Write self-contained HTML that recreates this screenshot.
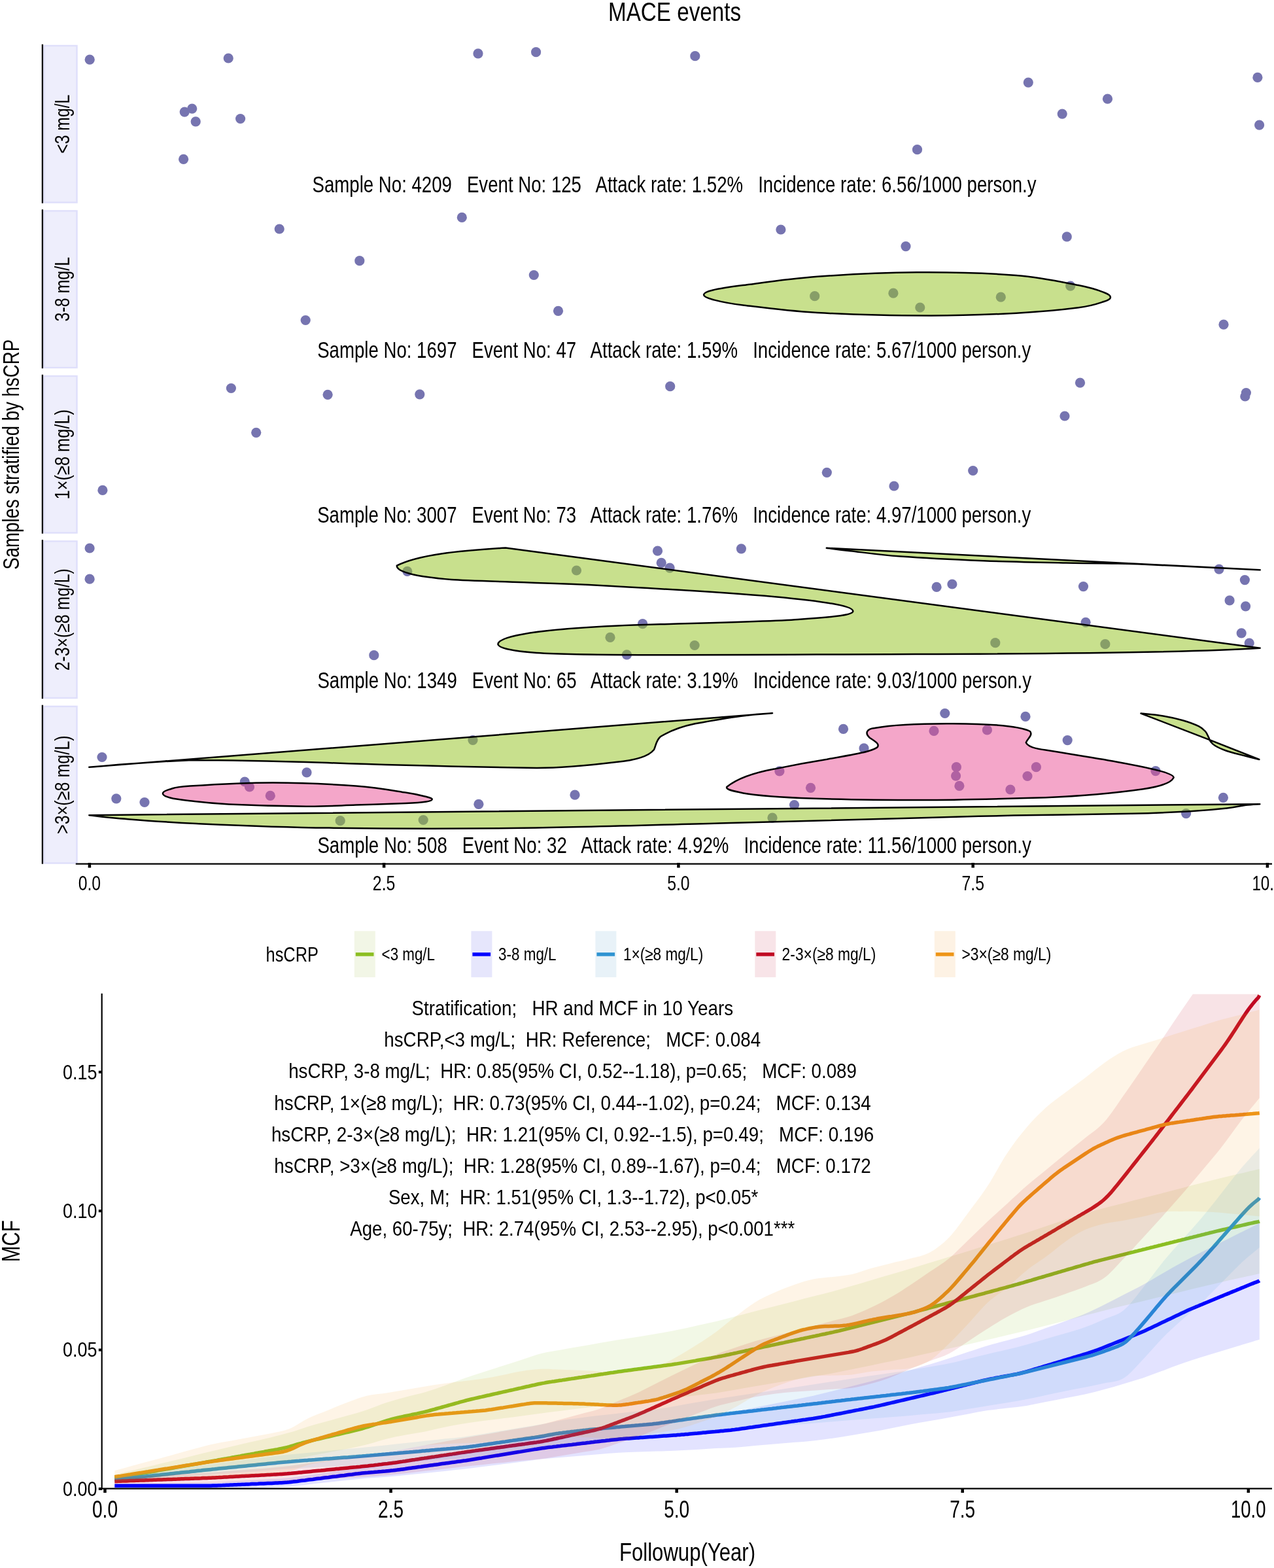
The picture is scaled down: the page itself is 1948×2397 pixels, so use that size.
<!DOCTYPE html><html><head><meta charset="utf-8"><title>MACE events</title><style>html,body{margin:0;padding:0;background:#fff;overflow:hidden}svg{display:block} text{font-family:"Liberation Sans", Arial, sans-serif;white-space:pre}</style></head><body>
<svg width="1948" height="2397" viewBox="0 0 1948 2397">
<rect width="1948" height="2397" fill="#fff"/>
<text x="930.0" y="31.9" font-size="41" textLength="203.0" lengthAdjust="spacingAndGlyphs" fill="#000" >MACE events</text>
<rect x="67.5" y="69.9" width="50" height="239.6" fill="#EEEEFC" stroke="#DFDFFB" stroke-width="2.4"/>
<line x1="64.9" y1="67.7" x2="64.9" y2="310.7" stroke="#000" stroke-width="2.3"/>
<text transform="translate(105.5,189.7) rotate(-90)" x="0" y="0" font-size="31" textLength="90.0" lengthAdjust="spacingAndGlyphs" text-anchor="middle" fill="#000" >&lt;3 mg/L</text>
<rect x="67.5" y="322.4" width="50" height="239.6" fill="#EEEEFC" stroke="#DFDFFB" stroke-width="2.4"/>
<line x1="64.9" y1="320.2" x2="64.9" y2="563.2" stroke="#000" stroke-width="2.3"/>
<text transform="translate(105.5,442.2) rotate(-90)" x="0" y="0" font-size="31" textLength="98.5" lengthAdjust="spacingAndGlyphs" text-anchor="middle" fill="#000" >3-8 mg/L</text>
<rect x="67.5" y="574.9" width="50" height="239.6" fill="#EEEEFC" stroke="#DFDFFB" stroke-width="2.4"/>
<line x1="64.9" y1="572.7" x2="64.9" y2="815.7" stroke="#000" stroke-width="2.3"/>
<text transform="translate(105.5,694.7) rotate(-90)" x="0" y="0" font-size="31" textLength="137.5" lengthAdjust="spacingAndGlyphs" text-anchor="middle" fill="#000" >1×(≥8 mg/L)</text>
<rect x="67.5" y="827.4" width="50" height="239.6" fill="#EEEEFC" stroke="#DFDFFB" stroke-width="2.4"/>
<line x1="64.9" y1="825.2" x2="64.9" y2="1068.2" stroke="#000" stroke-width="2.3"/>
<text transform="translate(105.5,947.2) rotate(-90)" x="0" y="0" font-size="31" textLength="156.0" lengthAdjust="spacingAndGlyphs" text-anchor="middle" fill="#000" >2-3×(≥8 mg/L)</text>
<rect x="67.5" y="1079.9" width="50" height="239.6" fill="#EEEEFC" stroke="#DFDFFB" stroke-width="2.4"/>
<line x1="64.9" y1="1077.7" x2="64.9" y2="1320.7" stroke="#000" stroke-width="2.3"/>
<text transform="translate(105.5,1199.7) rotate(-90)" x="0" y="0" font-size="31" textLength="150.5" lengthAdjust="spacingAndGlyphs" text-anchor="middle" fill="#000" >&gt;3×(≥8 mg/L)</text>
<text transform="translate(29.2,694.8) rotate(-90)" x="0" y="0" font-size="34.5" textLength="352.0" lengthAdjust="spacingAndGlyphs" text-anchor="middle" fill="#000" >Samples stratified by hsCRP</text>
<line x1="115.8" y1="1320.6" x2="1945" y2="1320.6" stroke="#000" stroke-width="2.2"/>
<line x1="136.9" y1="1319" x2="136.9" y2="1326.5" stroke="#000" stroke-width="4.5"/>
<text x="136.9" y="1361.3" font-size="31.5" textLength="34.5" lengthAdjust="spacingAndGlyphs" text-anchor="middle" fill="#000" >0.0</text>
<line x1="587.1" y1="1319" x2="587.1" y2="1326.5" stroke="#000" stroke-width="4.5"/>
<text x="587.1" y="1361.3" font-size="31.5" textLength="34.5" lengthAdjust="spacingAndGlyphs" text-anchor="middle" fill="#000" >2.5</text>
<line x1="1037.4" y1="1319" x2="1037.4" y2="1326.5" stroke="#000" stroke-width="4.5"/>
<text x="1037.4" y="1361.3" font-size="31.5" textLength="34.5" lengthAdjust="spacingAndGlyphs" text-anchor="middle" fill="#000" >5.0</text>
<line x1="1487.7" y1="1319" x2="1487.7" y2="1326.5" stroke="#000" stroke-width="4.5"/>
<text x="1487.7" y="1361.3" font-size="31.5" textLength="34.5" lengthAdjust="spacingAndGlyphs" text-anchor="middle" fill="#000" >7.5</text>
<line x1="1937.9" y1="1319" x2="1937.9" y2="1326.5" stroke="#000" stroke-width="4.5"/>
<text x="1937.9" y="1361.3" font-size="31.5" textLength="47.0" lengthAdjust="spacingAndGlyphs" text-anchor="middle" fill="#000" >10.0</text>
<circle cx="137.2" cy="91.2" r="7.6" fill="#7674B0"/>
<circle cx="349.2" cy="89.0" r="7.6" fill="#7674B0"/>
<circle cx="731.0" cy="81.9" r="7.6" fill="#7674B0"/>
<circle cx="819.6" cy="79.7" r="7.6" fill="#7674B0"/>
<circle cx="282.2" cy="171.1" r="7.6" fill="#7674B0"/>
<circle cx="293.7" cy="166.2" r="7.6" fill="#7674B0"/>
<circle cx="299.2" cy="185.9" r="7.6" fill="#7674B0"/>
<circle cx="367.6" cy="181.5" r="7.6" fill="#7674B0"/>
<circle cx="280.6" cy="243.3" r="7.6" fill="#7674B0"/>
<circle cx="1062.8" cy="85.7" r="7.6" fill="#7674B0"/>
<circle cx="1572.3" cy="126.1" r="7.6" fill="#7674B0"/>
<circle cx="1693.5" cy="151.2" r="7.6" fill="#7674B0"/>
<circle cx="1624.2" cy="174.1" r="7.6" fill="#7674B0"/>
<circle cx="1402.5" cy="228.7" r="7.6" fill="#7674B0"/>
<circle cx="1922.9" cy="118.4" r="7.6" fill="#7674B0"/>
<circle cx="1925.6" cy="191.1" r="7.6" fill="#7674B0"/>
<circle cx="427.2" cy="350.0" r="7.6" fill="#7674B0"/>
<circle cx="706.3" cy="332.4" r="7.6" fill="#7674B0"/>
<circle cx="549.8" cy="398.7" r="7.6" fill="#7674B0"/>
<circle cx="816.3" cy="420.5" r="7.6" fill="#7674B0"/>
<circle cx="467.2" cy="489.5" r="7.6" fill="#7674B0"/>
<circle cx="853.5" cy="475.3" r="7.6" fill="#7674B0"/>
<circle cx="1193.9" cy="351.0" r="7.6" fill="#7674B0"/>
<circle cx="1385.0" cy="376.6" r="7.6" fill="#7674B0"/>
<circle cx="1631.3" cy="361.9" r="7.6" fill="#7674B0"/>
<circle cx="1871.0" cy="496.2" r="7.6" fill="#7674B0"/>
<circle cx="1245.7" cy="452.7" r="7.6" fill="#7674B0"/>
<circle cx="1365.9" cy="448.2" r="7.6" fill="#7674B0"/>
<circle cx="1406.8" cy="470.0" r="7.6" fill="#7674B0"/>
<circle cx="1530.3" cy="454.2" r="7.6" fill="#7674B0"/>
<circle cx="1636.7" cy="437.2" r="7.6" fill="#7674B0"/>
<circle cx="353.4" cy="593.5" r="7.6" fill="#7674B0"/>
<circle cx="501.1" cy="603.3" r="7.6" fill="#7674B0"/>
<circle cx="641.8" cy="602.8" r="7.6" fill="#7674B0"/>
<circle cx="1024.7" cy="590.7" r="7.6" fill="#7674B0"/>
<circle cx="391.7" cy="661.3" r="7.6" fill="#7674B0"/>
<circle cx="156.9" cy="749.4" r="7.6" fill="#7674B0"/>
<circle cx="1651.5" cy="585.2" r="7.6" fill="#7674B0"/>
<circle cx="1628.0" cy="636.0" r="7.6" fill="#7674B0"/>
<circle cx="1905.4" cy="600.5" r="7.6" fill="#7674B0"/>
<circle cx="1903.8" cy="606.0" r="7.6" fill="#7674B0"/>
<circle cx="1264.3" cy="722.3" r="7.6" fill="#7674B0"/>
<circle cx="1367.0" cy="743.0" r="7.6" fill="#7674B0"/>
<circle cx="1487.7" cy="719.5" r="7.6" fill="#7674B0"/>
<circle cx="137.1" cy="838.0" r="7.6" fill="#7674B0"/>
<circle cx="137.1" cy="885.2" r="7.6" fill="#7674B0"/>
<circle cx="571.8" cy="1001.7" r="7.6" fill="#7674B0"/>
<circle cx="622.8" cy="873.4" r="7.6" fill="#7674B0"/>
<circle cx="881.5" cy="872.0" r="7.6" fill="#7674B0"/>
<circle cx="1005.5" cy="842.2" r="7.6" fill="#7674B0"/>
<circle cx="1011.2" cy="860.4" r="7.6" fill="#7674B0"/>
<circle cx="1024.1" cy="868.1" r="7.6" fill="#7674B0"/>
<circle cx="1133.4" cy="838.8" r="7.6" fill="#7674B0"/>
<circle cx="982.6" cy="953.7" r="7.6" fill="#7674B0"/>
<circle cx="933.0" cy="974.4" r="7.6" fill="#7674B0"/>
<circle cx="958.4" cy="1000.8" r="7.6" fill="#7674B0"/>
<circle cx="1062.1" cy="986.5" r="7.6" fill="#7674B0"/>
<circle cx="1432.1" cy="897.4" r="7.6" fill="#7674B0"/>
<circle cx="1455.9" cy="893.0" r="7.6" fill="#7674B0"/>
<circle cx="1656.5" cy="896.6" r="7.6" fill="#7674B0"/>
<circle cx="1660.1" cy="951.3" r="7.6" fill="#7674B0"/>
<circle cx="1521.8" cy="982.7" r="7.6" fill="#7674B0"/>
<circle cx="1689.9" cy="984.7" r="7.6" fill="#7674B0"/>
<circle cx="1864.0" cy="870.1" r="7.6" fill="#7674B0"/>
<circle cx="1903.4" cy="886.6" r="7.6" fill="#7674B0"/>
<circle cx="1880.1" cy="917.9" r="7.6" fill="#7674B0"/>
<circle cx="1904.6" cy="926.8" r="7.6" fill="#7674B0"/>
<circle cx="1898.2" cy="967.8" r="7.6" fill="#7674B0"/>
<circle cx="1910.2" cy="983.1" r="7.6" fill="#7674B0"/>
<circle cx="156.0" cy="1157.5" r="7.6" fill="#7674B0"/>
<circle cx="177.8" cy="1220.8" r="7.6" fill="#7674B0"/>
<circle cx="221.0" cy="1226.5" r="7.6" fill="#7674B0"/>
<circle cx="374.2" cy="1195.0" r="7.6" fill="#7674B0"/>
<circle cx="381.5" cy="1203.0" r="7.6" fill="#7674B0"/>
<circle cx="413.3" cy="1216.4" r="7.6" fill="#7674B0"/>
<circle cx="469.0" cy="1180.9" r="7.6" fill="#7674B0"/>
<circle cx="731.9" cy="1229.3" r="7.6" fill="#7674B0"/>
<circle cx="723.0" cy="1131.5" r="7.6" fill="#7674B0"/>
<circle cx="520.2" cy="1254.7" r="7.6" fill="#7674B0"/>
<circle cx="647.2" cy="1253.5" r="7.6" fill="#7674B0"/>
<circle cx="879.0" cy="1215.2" r="7.6" fill="#7674B0"/>
<circle cx="1289.5" cy="1114.4" r="7.6" fill="#7674B0"/>
<circle cx="1321.0" cy="1143.8" r="7.6" fill="#7674B0"/>
<circle cx="1191.9" cy="1178.9" r="7.6" fill="#7674B0"/>
<circle cx="1239.5" cy="1204.3" r="7.6" fill="#7674B0"/>
<circle cx="1214.5" cy="1230.5" r="7.6" fill="#7674B0"/>
<circle cx="1181.0" cy="1250.2" r="7.6" fill="#7674B0"/>
<circle cx="1444.8" cy="1090.5" r="7.6" fill="#7674B0"/>
<circle cx="1568.0" cy="1095.4" r="7.6" fill="#7674B0"/>
<circle cx="1632.2" cy="1131.6" r="7.6" fill="#7674B0"/>
<circle cx="1428.0" cy="1117.4" r="7.6" fill="#7674B0"/>
<circle cx="1509.4" cy="1115.9" r="7.6" fill="#7674B0"/>
<circle cx="1462.4" cy="1172.7" r="7.6" fill="#7674B0"/>
<circle cx="1461.6" cy="1186.1" r="7.6" fill="#7674B0"/>
<circle cx="1466.9" cy="1201.4" r="7.6" fill="#7674B0"/>
<circle cx="1584.4" cy="1172.7" r="7.6" fill="#7674B0"/>
<circle cx="1571.0" cy="1186.5" r="7.6" fill="#7674B0"/>
<circle cx="1544.9" cy="1207.0" r="7.6" fill="#7674B0"/>
<circle cx="1767.0" cy="1178.6" r="7.6" fill="#7674B0"/>
<circle cx="1870.4" cy="1219.3" r="7.6" fill="#7674B0"/>
<circle cx="1813.6" cy="1243.6" r="7.6" fill="#7674B0"/>
<path d="M1076.0,450.6 C1076.0,448.2 1080.0,445.9 1090.0,443.5 C1100.0,441.1 1109.3,439.6 1136.0,436.1 C1162.7,432.7 1205.7,426.1 1250.0,422.8 C1294.3,419.5 1351.3,416.6 1402.0,416.3 C1452.7,416.0 1512.8,417.6 1554.0,420.9 C1595.2,424.2 1626.7,431.8 1649.0,436.1 C1671.3,440.5 1679.8,443.9 1688.0,447.0 C1696.2,450.1 1698.0,452.1 1698.0,454.4 C1698.0,456.7 1696.2,458.4 1688.0,461.0 C1679.8,463.6 1671.3,467.4 1649.0,470.3 C1626.7,473.2 1592.0,476.7 1554.0,478.7 C1516.0,480.7 1471.7,482.6 1421.0,482.5 C1370.3,482.4 1297.5,480.7 1250.0,478.0 C1202.5,475.3 1162.7,469.8 1136.0,466.5 C1109.3,463.2 1100.0,460.6 1090.0,458.0 C1080.0,455.4 1076.0,453.0 1076.0,450.6 Z" fill="rgba(151,197,40,0.53)" stroke="#000" stroke-width="2.5" stroke-linejoin="round"/>
<path d="M606.8,864.7 C640,848 700,842 773.1,837.5 L1926.7,990.7 C1850,996 1700,999 1400,1000 C1100,1001 900,1003 820,998 C780,995 762,990 761.4,984.8 C762,975 800,962 968.8,955.4 C1100,952 1184.8,949.8 1220,947 C1280,943 1304,940 1304.3,934.4 C1304,928 1280,921 1184.8,912.2 C1100,905 1012,900 900,894 C800,890 720,888 690,886 C640,882 606,875 606.8,864.7 Z" fill="rgba(151,197,40,0.53)" stroke="#000" stroke-width="2.5" stroke-linejoin="round"/>
<path d="M1263.8,837.8 L1926.7,871.3 L1740,862.2 L1740.0,862.2 C1734.9,862.1 1727.8,861.9 1709.5,861.6 C1691.2,861.3 1664.3,861.3 1630.0,860.6 C1595.7,859.9 1545.7,859.0 1503.5,857.3 C1461.3,855.6 1410.6,853.1 1376.7,850.6 C1342.8,848.1 1318.8,844.3 1300.0,842.2 C1281.2,840.1 1269.8,838.5 1263.8,837.8 Z" fill="rgba(151,197,40,0.53)" stroke="#000" stroke-width="2.5" stroke-linejoin="round"/>
<path d="M136.3,1172.8 L1181,1090.2 C1150,1092 1123.4,1095 1062.9,1106.3 C1040,1111 1022.6,1118.4 1010,1126 C1003,1132 1003,1140 1000,1146 C992,1156 975,1162 942,1165 C900,1170 860,1174 821,1174 C700,1172 600,1170 500,1166 C400,1163 320,1162 293.5,1162 C220,1165 160,1171 136.3,1172.8 Z" fill="rgba(151,197,40,0.53)" stroke="#000" stroke-width="2.5" stroke-linejoin="round"/>
<path d="M136.3,1246.2 L1926.3,1229.2 L1926.3,1229.2 C1922.8,1229.5 1913.4,1229.8 1905.0,1230.8 C1896.6,1231.8 1890.2,1233.9 1876.0,1235.5 C1861.8,1237.1 1844.3,1238.8 1820.0,1240.2 C1795.7,1241.6 1775.0,1242.7 1730.0,1243.8 C1685.0,1244.9 1605.0,1245.5 1550.0,1246.6 C1495.0,1247.7 1475.0,1248.4 1400.0,1250.4 C1325.0,1252.4 1200.0,1255.9 1100.0,1258.5 C1000.0,1261.1 899.5,1264.6 800.0,1265.8 C700.5,1267.0 586.5,1266.7 503.2,1265.6 C419.9,1264.5 353.9,1261.4 300.0,1259.0 C246.1,1256.6 207.3,1253.1 180.0,1251.0 C152.7,1248.9 143.6,1247.0 136.3,1246.2 Z" fill="rgba(151,197,40,0.53)" stroke="#000" stroke-width="2.5" stroke-linejoin="round"/>
<path d="M1744.5,1090.6 C1750.2,1091.2 1767.7,1092.7 1778.4,1094.5 C1789.1,1096.3 1799.5,1098.6 1808.6,1101.2 C1817.7,1103.8 1827.1,1107.4 1832.8,1110.2 C1838.5,1113.0 1840.5,1115.2 1843.0,1118.0 C1845.5,1120.8 1846.7,1124.4 1848.0,1127.0 C1849.3,1129.6 1849.3,1131.3 1851.0,1133.5 C1852.7,1135.7 1854.0,1137.6 1858.0,1140.0 C1862.0,1142.4 1868.3,1145.3 1875.2,1147.7 C1882.1,1150.1 1890.9,1152.2 1899.3,1154.4 C1907.7,1156.6 1921.1,1159.9 1925.4,1161.0 L1849.1,1130.8 L1744.5,1090.6 Z" fill="rgba(151,197,40,0.53)" stroke="#000" stroke-width="2.5" stroke-linejoin="round"/>
<path d="M248.9,1212.9 C248.9,1210.7 253.0,1208.4 260.0,1206.5 C267.0,1204.6 264.5,1203.2 290.7,1201.5 C316.9,1199.8 375.1,1196.4 417.4,1196.4 C459.6,1196.4 510.4,1199.0 544.2,1201.5 C578.0,1204.0 602.2,1208.8 620.2,1211.6 C638.2,1214.3 645.2,1216.3 652.0,1218.0 C658.8,1219.7 660.8,1220.5 660.8,1221.8 C660.8,1223.0 658.8,1224.5 652.0,1225.5 C645.2,1226.5 638.2,1227.2 620.2,1228.1 C602.2,1228.9 569.6,1229.8 544.2,1230.6 C518.9,1231.4 500.5,1232.9 468.1,1232.7 C435.7,1232.5 379.6,1230.9 350.0,1229.5 C320.4,1228.1 305.7,1226.0 290.7,1224.3 C275.7,1222.6 267.0,1221.4 260.0,1219.5 C253.0,1217.6 248.9,1215.1 248.9,1212.9 Z" fill="rgba(233,77,147,0.5)" stroke="#000" stroke-width="2.5" stroke-linejoin="round"/>
<path d="M1111.3,1203 C1130,1188 1160,1180 1183.9,1175.6 C1220,1168 1250,1163 1264.5,1160.7 C1300,1154 1330,1150 1341.1,1142.6 C1346,1138 1338,1133 1330,1128 C1322,1121 1325,1114 1337.3,1112.9 C1370,1107 1420,1106 1456.8,1106.2 C1520,1106.5 1560,1110 1575,1118 C1580,1124 1570,1130 1568.8,1135.3 C1572,1142 1585,1145 1598.6,1146.5 C1650,1155 1690,1161 1710.6,1165.2 C1770,1176 1795,1183 1794.6,1188.7 C1790,1198 1770,1203 1747.9,1206.2 C1700,1213 1650,1217 1598.6,1219.3 C1500,1222 1450,1223 1412,1223 C1350,1223 1300,1223 1224.2,1220 C1180,1218 1150,1216 1130,1211 C1115,1208 1110,1206 1111.3,1203 Z" fill="rgba(233,77,147,0.5)" stroke="#000" stroke-width="2.5" stroke-linejoin="round"/>
<text x="477.5" y="294.1" font-size="35.6" textLength="1107.0" lengthAdjust="spacingAndGlyphs" fill="#000" >Sample No: 4209   Event No: 125   Attack rate: 1.52%   Incidence rate: 6.56/1000 person.y</text>
<text x="485.2" y="546.6" font-size="35.6" textLength="1091.1" lengthAdjust="spacingAndGlyphs" fill="#000" >Sample No: 1697   Event No: 47   Attack rate: 1.59%   Incidence rate: 5.67/1000 person.y</text>
<text x="485.2" y="799.1" font-size="35.6" textLength="1091.1" lengthAdjust="spacingAndGlyphs" fill="#000" >Sample No: 3007   Event No: 73   Attack rate: 1.76%   Incidence rate: 4.97/1000 person.y</text>
<text x="485.4" y="1051.6" font-size="35.6" textLength="1091.6" lengthAdjust="spacingAndGlyphs" fill="#000" >Sample No: 1349   Event No: 65   Attack rate: 3.19%   Incidence rate: 9.03/1000 person.y</text>
<text x="485.4" y="1304.1" font-size="35.6" textLength="1091.4" lengthAdjust="spacingAndGlyphs" fill="#000" >Sample No: 508   Event No: 32   Attack rate: 4.92%   Incidence rate: 11.56/1000 person.y</text>
<text x="406.5" y="1470.0" font-size="31" textLength="80.5" lengthAdjust="spacingAndGlyphs" fill="#000" >hsCRP</text>
<rect x="541.8" y="1423.3" width="32" height="70.6" fill="#F2F6E6"/>
<line x1="543.8" y1="1458.9" x2="571.5" y2="1458.9" stroke="#8CBE22" stroke-width="5.5"/>
<text x="583.6" y="1468.0" font-size="27" textLength="81.4" lengthAdjust="spacingAndGlyphs" fill="#000" >&lt;3 mg/L</text>
<rect x="720.4" y="1423.3" width="32" height="70.6" fill="#E6E6FC"/>
<line x1="722.4" y1="1458.9" x2="750.1" y2="1458.9" stroke="#0000FF" stroke-width="5.5"/>
<text x="762.0" y="1468.0" font-size="27" textLength="88.6" lengthAdjust="spacingAndGlyphs" fill="#000" >3-8 mg/L</text>
<rect x="910.4" y="1423.3" width="32" height="70.6" fill="#E8F2F8"/>
<line x1="912.4" y1="1458.9" x2="940.1" y2="1458.9" stroke="#2E93D1" stroke-width="5.5"/>
<text x="952.9" y="1468.0" font-size="27" textLength="122.3" lengthAdjust="spacingAndGlyphs" fill="#000" >1×(≥8 mg/L)</text>
<rect x="1154.3" y="1423.3" width="32" height="70.6" fill="#F8E4E8"/>
<line x1="1156.3" y1="1458.9" x2="1184.0" y2="1458.9" stroke="#C00A23" stroke-width="5.5"/>
<text x="1195.6" y="1468.0" font-size="27" textLength="143.8" lengthAdjust="spacingAndGlyphs" fill="#000" >2-3×(≥8 mg/L)</text>
<rect x="1428.8" y="1423.3" width="32" height="70.6" fill="#FDF2E4"/>
<line x1="1430.8" y1="1458.9" x2="1458.5" y2="1458.9" stroke="#EE9517" stroke-width="5.5"/>
<text x="1470.5" y="1468.0" font-size="27" textLength="136.9" lengthAdjust="spacingAndGlyphs" fill="#000" >&gt;3×(≥8 mg/L)</text>
<defs><clipPath id="pc"><rect x="157" y="1519.7" width="1791" height="757"/></clipPath></defs>
<g clip-path="url(#pc)">
<path d="M175.3,2259.5 L178.3,2259.0 L181.3,2258.5 L184.3,2258.0 L187.3,2257.4 L190.3,2256.9 L193.3,2256.4 L196.3,2255.9 L199.3,2255.4 L202.3,2254.9 L205.3,2254.3 L208.3,2253.8 L211.3,2253.3 L214.3,2252.8 L217.3,2252.3 L220.3,2251.8 L223.3,2251.2 L226.3,2250.7 L229.3,2250.2 L232.3,2249.7 L235.3,2249.2 L238.3,2248.7 L241.3,2248.1 L244.3,2247.6 L247.3,2247.1 L250.3,2246.6 L253.3,2246.0 L256.3,2245.5 L259.3,2245.0 L262.3,2244.5 L265.3,2244.0 L268.3,2243.4 L271.3,2242.9 L274.3,2242.4 L277.3,2241.9 L280.3,2241.3 L283.3,2240.8 L286.3,2240.3 L289.3,2239.8 L292.3,2239.2 L295.3,2238.7 L298.3,2238.2 L301.3,2237.7 L304.3,2237.1 L307.3,2236.6 L310.3,2236.1 L313.3,2235.6 L316.3,2235.0 L319.3,2234.5 L322.3,2234.0 L325.3,2233.4 L328.3,2232.9 L331.3,2232.4 L334.3,2231.8 L337.3,2231.3 L340.3,2230.7 L343.3,2230.2 L346.3,2229.7 L349.3,2229.1 L352.3,2228.6 L355.3,2228.0 L358.3,2227.5 L361.3,2226.9 L364.3,2226.4 L367.3,2225.9 L370.3,2225.3 L373.3,2224.8 L376.3,2224.2 L379.3,2223.7 L382.3,2223.2 L385.3,2222.6 L388.3,2222.1 L391.3,2221.5 L394.3,2221.0 L397.3,2220.4 L400.3,2219.9 L403.3,2219.4 L406.3,2218.8 L409.3,2218.3 L412.3,2217.7 L415.3,2217.2 L418.3,2216.7 L421.3,2216.1 L424.3,2215.6 L427.3,2215.0 L430.3,2214.4 L433.3,2213.8 L436.3,2213.1 L439.3,2212.4 L442.3,2211.6 L445.3,2210.7 L448.3,2209.8 L451.3,2208.9 L454.3,2208.0 L457.3,2207.1 L460.3,2206.3 L463.3,2205.4 L466.3,2204.7 L469.3,2203.9 L472.3,2203.2 L475.3,2202.5 L478.3,2201.8 L481.3,2201.1 L484.3,2200.4 L487.3,2199.7 L490.3,2199.0 L493.3,2198.3 L496.3,2197.6 L499.3,2196.9 L502.3,2196.2 L505.3,2195.5 L508.3,2194.8 L511.3,2194.1 L514.3,2193.4 L517.3,2192.7 L520.3,2192.0 L523.3,2191.3 L526.3,2190.6 L529.3,2189.9 L532.3,2189.2 L535.3,2188.5 L538.3,2187.8 L541.3,2187.1 L544.3,2186.4 L547.3,2185.6 L550.3,2184.8 L553.3,2184.0 L556.3,2183.1 L559.3,2182.2 L562.3,2181.3 L565.3,2180.3 L568.3,2179.3 L571.3,2178.3 L574.3,2177.4 L577.3,2176.4 L580.3,2175.4 L583.3,2174.4 L586.3,2173.4 L589.3,2172.4 L592.3,2171.5 L595.3,2170.6 L598.3,2169.7 L601.3,2168.9 L604.3,2168.1 L607.3,2167.4 L610.3,2166.8 L613.3,2166.1 L616.3,2165.5 L619.3,2164.8 L622.3,2164.2 L625.3,2163.6 L628.3,2163.0 L631.3,2162.3 L634.3,2161.7 L637.3,2161.1 L640.3,2160.4 L643.3,2159.8 L646.3,2159.1 L649.3,2158.4 L652.3,2157.6 L655.3,2156.8 L658.3,2156.0 L661.3,2155.2 L664.3,2154.4 L667.3,2153.5 L670.3,2152.7 L673.3,2151.9 L676.3,2151.0 L679.3,2150.2 L682.3,2149.3 L685.3,2148.5 L688.3,2147.7 L691.3,2146.8 L694.3,2146.0 L697.3,2145.1 L700.3,2144.3 L703.3,2143.4 L706.3,2142.6 L709.3,2141.8 L712.3,2141.0 L715.3,2140.2 L718.3,2139.5 L721.3,2138.8 L724.3,2138.1 L727.3,2137.4 L730.3,2136.7 L733.3,2136.0 L736.3,2135.4 L739.3,2134.7 L742.3,2134.0 L745.3,2133.3 L748.3,2132.7 L751.3,2132.0 L754.3,2131.3 L757.3,2130.6 L760.3,2130.0 L763.3,2129.3 L766.3,2128.6 L769.3,2127.9 L772.3,2127.3 L775.3,2126.6 L778.3,2125.9 L781.3,2125.2 L784.3,2124.6 L787.3,2123.9 L790.3,2123.2 L793.3,2122.5 L796.3,2121.9 L799.3,2121.2 L802.3,2120.5 L805.3,2119.8 L808.3,2119.2 L811.3,2118.5 L814.3,2117.8 L817.3,2117.2 L820.3,2116.5 L823.3,2115.8 L826.3,2115.2 L829.3,2114.6 L832.3,2114.1 L835.3,2113.5 L838.3,2113.0 L841.3,2112.6 L844.3,2112.1 L847.3,2111.7 L850.3,2111.2 L853.3,2110.8 L856.3,2110.3 L859.3,2109.9 L862.3,2109.4 L865.3,2109.0 L868.3,2108.5 L871.3,2108.1 L874.3,2107.6 L877.3,2107.2 L880.3,2106.7 L883.3,2106.3 L886.3,2105.8 L889.3,2105.4 L892.3,2104.9 L895.3,2104.5 L898.3,2104.0 L901.3,2103.6 L904.3,2103.1 L907.3,2102.7 L910.3,2102.2 L913.3,2101.8 L916.3,2101.3 L919.3,2100.8 L922.3,2100.4 L925.3,2099.9 L928.3,2099.5 L931.3,2099.0 L934.3,2098.6 L937.3,2098.2 L940.3,2097.7 L943.3,2097.3 L946.3,2096.8 L949.3,2096.4 L952.3,2096.0 L955.3,2095.6 L958.3,2095.2 L961.3,2094.8 L964.3,2094.4 L967.3,2094.0 L970.3,2093.6 L973.3,2093.2 L976.3,2092.8 L979.3,2092.4 L982.3,2092.0 L985.3,2091.6 L988.3,2091.2 L991.3,2090.8 L994.3,2090.4 L997.3,2090.0 L1000.3,2089.6 L1003.3,2089.2 L1006.3,2088.8 L1009.3,2088.4 L1012.3,2088.0 L1015.3,2087.6 L1018.3,2087.2 L1021.3,2086.8 L1024.3,2086.4 L1027.3,2086.0 L1030.3,2085.5 L1033.3,2085.1 L1036.3,2084.6 L1039.3,2084.1 L1042.3,2083.6 L1045.3,2083.1 L1048.3,2082.6 L1051.3,2082.1 L1054.3,2081.6 L1057.3,2081.1 L1060.3,2080.6 L1063.3,2080.1 L1066.3,2079.5 L1069.3,2079.0 L1072.3,2078.5 L1075.3,2078.0 L1078.3,2077.5 L1081.3,2077.0 L1084.3,2076.5 L1087.3,2076.0 L1090.3,2075.4 L1093.3,2074.9 L1096.3,2074.4 L1099.3,2073.8 L1102.3,2073.2 L1105.3,2072.6 L1108.3,2072.0 L1111.3,2071.3 L1114.3,2070.7 L1117.3,2070.0 L1120.3,2069.4 L1123.3,2068.7 L1126.3,2068.1 L1129.3,2067.4 L1132.3,2066.8 L1135.3,2066.1 L1138.3,2065.5 L1141.3,2064.8 L1144.3,2064.2 L1147.3,2063.5 L1150.3,2062.8 L1153.3,2062.2 L1156.3,2061.5 L1159.3,2060.9 L1162.3,2060.2 L1165.3,2059.6 L1168.3,2058.9 L1171.3,2058.3 L1174.3,2057.7 L1177.3,2057.0 L1180.3,2056.4 L1183.3,2055.8 L1186.3,2055.1 L1189.3,2054.5 L1192.3,2053.8 L1195.3,2053.2 L1198.3,2052.6 L1201.3,2051.9 L1204.3,2051.3 L1207.3,2050.6 L1210.3,2050.0 L1213.3,2049.4 L1216.3,2048.7 L1219.3,2048.1 L1222.3,2047.5 L1225.3,2046.8 L1228.3,2046.2 L1231.3,2045.5 L1234.3,2044.9 L1237.3,2044.3 L1240.3,2043.6 L1243.3,2043.0 L1246.3,2042.4 L1249.3,2041.7 L1252.3,2041.1 L1255.3,2040.4 L1258.3,2039.8 L1261.3,2039.2 L1264.3,2038.5 L1267.3,2037.9 L1270.3,2037.2 L1273.3,2036.6 L1276.3,2035.9 L1279.3,2035.2 L1282.3,2034.6 L1285.3,2033.8 L1288.3,2033.1 L1291.3,2032.4 L1294.3,2031.6 L1297.3,2030.9 L1300.3,2030.1 L1303.3,2029.4 L1306.3,2028.6 L1309.3,2027.9 L1312.3,2027.1 L1315.3,2026.4 L1318.3,2025.6 L1321.3,2024.9 L1324.3,2024.1 L1327.3,2023.4 L1330.3,2022.6 L1333.3,2021.9 L1336.3,2021.1 L1339.3,2020.4 L1342.3,2019.6 L1345.3,2018.9 L1348.3,2018.1 L1351.3,2017.4 L1354.3,2016.6 L1357.3,2015.9 L1360.3,2015.1 L1363.3,2014.4 L1366.3,2013.6 L1369.3,2012.9 L1372.3,2012.1 L1375.3,2011.4 L1378.3,2010.6 L1381.3,2009.9 L1384.3,2009.1 L1387.3,2008.4 L1390.3,2007.6 L1393.3,2006.8 L1396.3,2006.1 L1399.3,2005.3 L1402.3,2004.5 L1405.3,2003.7 L1408.3,2002.9 L1411.3,2002.1 L1414.3,2001.3 L1417.3,2000.5 L1420.3,1999.7 L1423.3,1998.9 L1426.3,1998.1 L1429.3,1997.3 L1432.3,1996.5 L1435.3,1995.7 L1438.3,1994.9 L1441.3,1994.1 L1444.3,1993.3 L1447.3,1992.5 L1450.3,1991.7 L1453.3,1990.9 L1456.3,1990.1 L1459.3,1989.3 L1462.3,1988.5 L1465.3,1987.7 L1468.3,1986.9 L1471.3,1986.1 L1474.3,1985.3 L1477.3,1984.5 L1480.3,1983.7 L1483.3,1982.9 L1486.3,1982.1 L1489.3,1981.3 L1492.3,1980.5 L1495.3,1979.7 L1498.3,1978.9 L1501.3,1978.1 L1504.3,1977.3 L1507.3,1976.4 L1510.3,1975.6 L1513.3,1974.8 L1516.3,1974.0 L1519.3,1973.2 L1522.3,1972.4 L1525.3,1971.6 L1528.3,1970.7 L1531.3,1969.9 L1534.3,1969.1 L1537.3,1968.3 L1540.3,1967.5 L1543.3,1966.7 L1546.3,1965.9 L1549.3,1965.0 L1552.3,1964.2 L1555.3,1963.4 L1558.3,1962.5 L1561.3,1961.6 L1564.3,1960.8 L1567.3,1959.9 L1570.3,1959.0 L1573.3,1958.1 L1576.3,1957.3 L1579.3,1956.4 L1582.3,1955.5 L1585.3,1954.6 L1588.3,1953.7 L1591.3,1952.9 L1594.3,1952.0 L1597.3,1951.1 L1600.3,1950.2 L1603.3,1949.3 L1606.3,1948.5 L1609.3,1947.6 L1612.3,1946.7 L1615.3,1945.8 L1618.3,1944.9 L1621.3,1944.1 L1624.3,1943.2 L1627.3,1942.3 L1630.3,1941.4 L1633.3,1940.5 L1636.3,1939.7 L1639.3,1938.8 L1642.3,1937.9 L1645.3,1937.0 L1648.3,1936.1 L1651.3,1935.3 L1654.3,1934.4 L1657.3,1933.5 L1660.3,1932.6 L1663.3,1931.8 L1666.3,1930.9 L1669.3,1930.1 L1672.3,1929.2 L1675.3,1928.4 L1678.3,1927.7 L1681.3,1926.9 L1684.3,1926.1 L1687.3,1925.4 L1690.3,1924.6 L1693.3,1923.9 L1696.3,1923.1 L1699.3,1922.4 L1702.3,1921.6 L1705.3,1920.9 L1708.3,1920.1 L1711.3,1919.4 L1714.3,1918.6 L1717.3,1917.9 L1720.3,1917.1 L1723.3,1916.4 L1726.3,1915.6 L1729.3,1914.8 L1732.3,1914.1 L1735.3,1913.3 L1738.3,1912.6 L1741.3,1911.8 L1744.3,1911.1 L1747.3,1910.3 L1750.3,1909.6 L1753.3,1908.8 L1756.3,1908.1 L1759.3,1907.3 L1762.3,1906.6 L1765.3,1905.8 L1768.3,1905.1 L1771.3,1904.3 L1774.3,1903.6 L1777.3,1902.8 L1780.3,1902.1 L1783.3,1901.3 L1786.3,1900.6 L1789.3,1899.8 L1792.3,1899.1 L1795.3,1898.3 L1798.3,1897.6 L1801.3,1896.8 L1804.3,1896.1 L1807.3,1895.3 L1810.3,1894.6 L1813.3,1893.8 L1816.3,1893.1 L1819.3,1892.3 L1822.3,1891.6 L1825.3,1890.8 L1828.3,1890.1 L1831.3,1889.3 L1834.3,1888.6 L1837.3,1887.8 L1840.3,1887.1 L1843.3,1886.3 L1846.3,1885.6 L1849.3,1884.8 L1852.3,1884.1 L1855.3,1883.4 L1858.3,1882.6 L1861.3,1881.9 L1864.3,1881.2 L1867.3,1880.5 L1870.3,1879.8 L1873.3,1879.1 L1876.3,1878.4 L1879.3,1877.7 L1882.3,1877.1 L1885.3,1876.4 L1888.3,1875.7 L1891.3,1875.0 L1894.3,1874.3 L1897.3,1873.6 L1900.3,1872.9 L1903.3,1872.2 L1906.3,1871.5 L1909.3,1870.8 L1912.3,1870.1 L1915.3,1869.5 L1918.3,1868.8 L1921.3,1868.2 L1924.3,1867.6 L1925.8,1867.0" fill="none" stroke="#8CBE22" stroke-width="5.5" stroke-linejoin="round"/>
<path d="M175.3,2271.3 L178.3,2271.3 L181.3,2271.3 L184.3,2271.3 L187.3,2271.3 L190.3,2271.3 L193.3,2271.3 L196.3,2271.3 L199.3,2271.3 L202.3,2271.3 L205.3,2271.3 L208.3,2271.3 L211.3,2271.3 L214.3,2271.3 L217.3,2271.3 L220.3,2271.3 L223.3,2271.3 L226.3,2271.3 L229.3,2271.3 L232.3,2271.3 L235.3,2271.3 L238.3,2271.3 L241.3,2271.3 L244.3,2271.3 L247.3,2271.3 L250.3,2271.3 L253.3,2271.3 L256.3,2271.3 L259.3,2271.3 L262.3,2271.3 L265.3,2271.3 L268.3,2271.3 L271.3,2271.3 L274.3,2271.3 L277.3,2271.3 L280.3,2271.3 L283.3,2271.3 L286.3,2271.3 L289.3,2271.3 L292.3,2271.3 L295.3,2271.3 L298.3,2271.3 L301.3,2271.3 L304.3,2271.3 L307.3,2271.3 L310.3,2271.3 L313.3,2271.3 L316.3,2271.3 L319.3,2271.2 L322.3,2271.2 L325.3,2271.1 L328.3,2271.0 L331.3,2270.9 L334.3,2270.8 L337.3,2270.7 L340.3,2270.6 L343.3,2270.4 L346.3,2270.3 L349.3,2270.2 L352.3,2270.0 L355.3,2269.9 L358.3,2269.8 L361.3,2269.7 L364.3,2269.5 L367.3,2269.4 L370.3,2269.3 L373.3,2269.2 L376.3,2269.0 L379.3,2268.9 L382.3,2268.8 L385.3,2268.6 L388.3,2268.5 L391.3,2268.4 L394.3,2268.3 L397.3,2268.1 L400.3,2268.0 L403.3,2267.9 L406.3,2267.7 L409.3,2267.6 L412.3,2267.5 L415.3,2267.4 L418.3,2267.2 L421.3,2267.1 L424.3,2267.0 L427.3,2266.8 L430.3,2266.7 L433.3,2266.5 L436.3,2266.3 L439.3,2266.1 L442.3,2265.8 L445.3,2265.4 L448.3,2265.1 L451.3,2264.7 L454.3,2264.4 L457.3,2264.0 L460.3,2263.6 L463.3,2263.2 L466.3,2262.9 L469.3,2262.5 L472.3,2262.1 L475.3,2261.7 L478.3,2261.4 L481.3,2261.0 L484.3,2260.6 L487.3,2260.2 L490.3,2259.9 L493.3,2259.5 L496.3,2259.1 L499.3,2258.7 L502.3,2258.4 L505.3,2258.0 L508.3,2257.6 L511.3,2257.2 L514.3,2256.9 L517.3,2256.5 L520.3,2256.1 L523.3,2255.7 L526.3,2255.4 L529.3,2255.0 L532.3,2254.6 L535.3,2254.2 L538.3,2253.9 L541.3,2253.5 L544.3,2253.1 L547.3,2252.8 L550.3,2252.4 L553.3,2252.1 L556.3,2251.8 L559.3,2251.5 L562.3,2251.3 L565.3,2251.0 L568.3,2250.7 L571.3,2250.5 L574.3,2250.2 L577.3,2250.0 L580.3,2249.7 L583.3,2249.5 L586.3,2249.2 L589.3,2249.0 L592.3,2248.7 L595.3,2248.4 L598.3,2248.1 L601.3,2247.8 L604.3,2247.4 L607.3,2247.1 L610.3,2246.7 L613.3,2246.3 L616.3,2245.9 L619.3,2245.5 L622.3,2245.0 L625.3,2244.6 L628.3,2244.2 L631.3,2243.8 L634.3,2243.4 L637.3,2243.0 L640.3,2242.6 L643.3,2242.2 L646.3,2241.7 L649.3,2241.3 L652.3,2240.9 L655.3,2240.5 L658.3,2240.1 L661.3,2239.7 L664.3,2239.3 L667.3,2238.9 L670.3,2238.5 L673.3,2238.0 L676.3,2237.6 L679.3,2237.2 L682.3,2236.8 L685.3,2236.4 L688.3,2236.0 L691.3,2235.6 L694.3,2235.2 L697.3,2234.8 L700.3,2234.3 L703.3,2233.9 L706.3,2233.5 L709.3,2233.1 L712.3,2232.7 L715.3,2232.2 L718.3,2231.8 L721.3,2231.3 L724.3,2230.8 L727.3,2230.3 L730.3,2229.8 L733.3,2229.3 L736.3,2228.9 L739.3,2228.4 L742.3,2227.9 L745.3,2227.4 L748.3,2226.9 L751.3,2226.4 L754.3,2225.9 L757.3,2225.4 L760.3,2224.9 L763.3,2224.5 L766.3,2224.0 L769.3,2223.5 L772.3,2223.0 L775.3,2222.5 L778.3,2222.0 L781.3,2221.5 L784.3,2221.0 L787.3,2220.5 L790.3,2220.0 L793.3,2219.6 L796.3,2219.1 L799.3,2218.6 L802.3,2218.1 L805.3,2217.6 L808.3,2217.1 L811.3,2216.6 L814.3,2216.1 L817.3,2215.6 L820.3,2215.2 L823.3,2214.7 L826.3,2214.2 L829.3,2213.8 L832.3,2213.4 L835.3,2213.0 L838.3,2212.6 L841.3,2212.2 L844.3,2211.9 L847.3,2211.5 L850.3,2211.2 L853.3,2210.8 L856.3,2210.5 L859.3,2210.1 L862.3,2209.8 L865.3,2209.4 L868.3,2209.1 L871.3,2208.7 L874.3,2208.4 L877.3,2208.0 L880.3,2207.7 L883.3,2207.3 L886.3,2206.9 L889.3,2206.6 L892.3,2206.2 L895.3,2205.9 L898.3,2205.5 L901.3,2205.2 L904.3,2204.8 L907.3,2204.5 L910.3,2204.1 L913.3,2203.8 L916.3,2203.4 L919.3,2203.1 L922.3,2202.7 L925.3,2202.4 L928.3,2202.0 L931.3,2201.7 L934.3,2201.3 L937.3,2201.0 L940.3,2200.7 L943.3,2200.4 L946.3,2200.1 L949.3,2199.8 L952.3,2199.6 L955.3,2199.3 L958.3,2199.1 L961.3,2198.9 L964.3,2198.7 L967.3,2198.5 L970.3,2198.3 L973.3,2198.1 L976.3,2197.9 L979.3,2197.6 L982.3,2197.4 L985.3,2197.2 L988.3,2197.0 L991.3,2196.8 L994.3,2196.6 L997.3,2196.4 L1000.3,2196.2 L1003.3,2196.0 L1006.3,2195.8 L1009.3,2195.5 L1012.3,2195.3 L1015.3,2195.1 L1018.3,2194.9 L1021.3,2194.7 L1024.3,2194.5 L1027.3,2194.3 L1030.3,2194.1 L1033.3,2193.9 L1036.3,2193.6 L1039.3,2193.4 L1042.3,2193.1 L1045.3,2192.9 L1048.3,2192.6 L1051.3,2192.4 L1054.3,2192.1 L1057.3,2191.8 L1060.3,2191.5 L1063.3,2191.2 L1066.3,2191.0 L1069.3,2190.7 L1072.3,2190.4 L1075.3,2190.1 L1078.3,2189.9 L1081.3,2189.6 L1084.3,2189.3 L1087.3,2189.0 L1090.3,2188.7 L1093.3,2188.5 L1096.3,2188.2 L1099.3,2187.9 L1102.3,2187.6 L1105.3,2187.4 L1108.3,2187.1 L1111.3,2186.8 L1114.3,2186.5 L1117.3,2186.2 L1120.3,2185.8 L1123.3,2185.5 L1126.3,2185.1 L1129.3,2184.7 L1132.3,2184.2 L1135.3,2183.8 L1138.3,2183.4 L1141.3,2183.0 L1144.3,2182.5 L1147.3,2182.1 L1150.3,2181.7 L1153.3,2181.2 L1156.3,2180.8 L1159.3,2180.4 L1162.3,2180.0 L1165.3,2179.5 L1168.3,2179.1 L1171.3,2178.7 L1174.3,2178.3 L1177.3,2177.8 L1180.3,2177.4 L1183.3,2177.0 L1186.3,2176.5 L1189.3,2176.1 L1192.3,2175.7 L1195.3,2175.3 L1198.3,2174.8 L1201.3,2174.4 L1204.3,2174.0 L1207.3,2173.6 L1210.3,2173.1 L1213.3,2172.7 L1216.3,2172.3 L1219.3,2171.9 L1222.3,2171.4 L1225.3,2171.0 L1228.3,2170.6 L1231.3,2170.2 L1234.3,2169.7 L1237.3,2169.3 L1240.3,2168.9 L1243.3,2168.5 L1246.3,2168.0 L1249.3,2167.5 L1252.3,2167.0 L1255.3,2166.5 L1258.3,2165.9 L1261.3,2165.4 L1264.3,2164.8 L1267.3,2164.2 L1270.3,2163.6 L1273.3,2163.0 L1276.3,2162.4 L1279.3,2161.8 L1282.3,2161.3 L1285.3,2160.7 L1288.3,2160.1 L1291.3,2159.5 L1294.3,2158.9 L1297.3,2158.3 L1300.3,2157.7 L1303.3,2157.1 L1306.3,2156.5 L1309.3,2155.9 L1312.3,2155.4 L1315.3,2154.8 L1318.3,2154.2 L1321.3,2153.6 L1324.3,2153.0 L1327.3,2152.4 L1330.3,2151.8 L1333.3,2151.2 L1336.3,2150.6 L1339.3,2149.9 L1342.3,2149.3 L1345.3,2148.6 L1348.3,2147.9 L1351.3,2147.2 L1354.3,2146.5 L1357.3,2145.8 L1360.3,2145.1 L1363.3,2144.4 L1366.3,2143.7 L1369.3,2143.0 L1372.3,2142.3 L1375.3,2141.6 L1378.3,2140.9 L1381.3,2140.2 L1384.3,2139.5 L1387.3,2138.8 L1390.3,2138.1 L1393.3,2137.4 L1396.3,2136.7 L1399.3,2136.0 L1402.3,2135.3 L1405.3,2134.6 L1408.3,2133.9 L1411.3,2133.2 L1414.3,2132.5 L1417.3,2131.8 L1420.3,2131.1 L1423.3,2130.4 L1426.3,2129.7 L1429.3,2129.0 L1432.3,2128.2 L1435.3,2127.5 L1438.3,2126.7 L1441.3,2126.0 L1444.3,2125.2 L1447.3,2124.5 L1450.3,2123.7 L1453.3,2123.0 L1456.3,2122.2 L1459.3,2121.5 L1462.3,2120.7 L1465.3,2120.0 L1468.3,2119.2 L1471.3,2118.5 L1474.3,2117.7 L1477.3,2117.0 L1480.3,2116.2 L1483.3,2115.5 L1486.3,2114.7 L1489.3,2114.0 L1492.3,2113.2 L1495.3,2112.5 L1498.3,2111.7 L1501.3,2111.0 L1504.3,2110.3 L1507.3,2109.6 L1510.3,2108.9 L1513.3,2108.3 L1516.3,2107.6 L1519.3,2107.1 L1522.3,2106.5 L1525.3,2105.9 L1528.3,2105.4 L1531.3,2104.8 L1534.3,2104.3 L1537.3,2103.7 L1540.3,2103.2 L1543.3,2102.6 L1546.3,2102.1 L1549.3,2101.5 L1552.3,2101.0 L1555.3,2100.4 L1558.3,2099.7 L1561.3,2099.0 L1564.3,2098.2 L1567.3,2097.4 L1570.3,2096.6 L1573.3,2095.7 L1576.3,2094.8 L1579.3,2093.9 L1582.3,2093.0 L1585.3,2092.1 L1588.3,2091.2 L1591.3,2090.3 L1594.3,2089.4 L1597.3,2088.5 L1600.3,2087.6 L1603.3,2086.7 L1606.3,2085.8 L1609.3,2084.9 L1612.3,2084.0 L1615.3,2083.1 L1618.3,2082.2 L1621.3,2081.3 L1624.3,2080.4 L1627.3,2079.5 L1630.3,2078.6 L1633.3,2077.7 L1636.3,2076.8 L1639.3,2075.9 L1642.3,2075.0 L1645.3,2074.1 L1648.3,2073.2 L1651.3,2072.3 L1654.3,2071.4 L1657.3,2070.5 L1660.3,2069.6 L1663.3,2068.7 L1666.3,2067.7 L1669.3,2066.7 L1672.3,2065.7 L1675.3,2064.6 L1678.3,2063.5 L1681.3,2062.4 L1684.3,2061.2 L1687.3,2060.0 L1690.3,2058.8 L1693.3,2057.6 L1696.3,2056.4 L1699.3,2055.2 L1702.3,2054.0 L1705.3,2052.8 L1708.3,2051.6 L1711.3,2050.4 L1714.3,2049.2 L1717.3,2048.0 L1720.3,2046.8 L1723.3,2045.6 L1726.3,2044.4 L1729.3,2043.2 L1732.3,2042.0 L1735.3,2040.8 L1738.3,2039.5 L1741.3,2038.3 L1744.3,2037.0 L1747.3,2035.7 L1750.3,2034.4 L1753.3,2033.0 L1756.3,2031.6 L1759.3,2030.2 L1762.3,2028.7 L1765.3,2027.3 L1768.3,2025.9 L1771.3,2024.5 L1774.3,2023.0 L1777.3,2021.6 L1780.3,2020.2 L1783.3,2018.8 L1786.3,2017.3 L1789.3,2015.9 L1792.3,2014.5 L1795.3,2013.0 L1798.3,2011.6 L1801.3,2010.2 L1804.3,2008.8 L1807.3,2007.3 L1810.3,2005.9 L1813.3,2004.5 L1816.3,2003.1 L1819.3,2001.8 L1822.3,2000.5 L1825.3,1999.2 L1828.3,1997.9 L1831.3,1996.7 L1834.3,1995.4 L1837.3,1994.2 L1840.3,1992.9 L1843.3,1991.7 L1846.3,1990.5 L1849.3,1989.2 L1852.3,1988.0 L1855.3,1986.8 L1858.3,1985.5 L1861.3,1984.3 L1864.3,1983.0 L1867.3,1981.8 L1870.3,1980.6 L1873.3,1979.3 L1876.3,1978.1 L1879.3,1976.9 L1882.3,1975.6 L1885.3,1974.4 L1888.3,1973.2 L1891.3,1971.9 L1894.3,1970.7 L1897.3,1969.4 L1900.3,1968.2 L1903.3,1967.0 L1906.3,1965.7 L1909.3,1964.5 L1912.3,1963.3 L1915.3,1962.1 L1918.3,1960.9 L1921.3,1959.8 L1924.3,1958.7 L1925.8,1957.7" fill="none" stroke="#0000FF" stroke-width="5.5" stroke-linejoin="round"/>
<path d="M175.3,2262.0 L178.3,2261.7 L181.3,2261.4 L184.3,2261.0 L187.3,2260.7 L190.3,2260.4 L193.3,2260.1 L196.3,2259.8 L199.3,2259.4 L202.3,2259.1 L205.3,2258.8 L208.3,2258.5 L211.3,2258.2 L214.3,2257.8 L217.3,2257.5 L220.3,2257.2 L223.3,2256.9 L226.3,2256.6 L229.3,2256.3 L232.3,2255.9 L235.3,2255.6 L238.3,2255.3 L241.3,2255.0 L244.3,2254.7 L247.3,2254.3 L250.3,2254.0 L253.3,2253.7 L256.3,2253.4 L259.3,2253.1 L262.3,2252.7 L265.3,2252.4 L268.3,2252.1 L271.3,2251.8 L274.3,2251.5 L277.3,2251.1 L280.3,2250.8 L283.3,2250.5 L286.3,2250.2 L289.3,2249.9 L292.3,2249.5 L295.3,2249.2 L298.3,2248.9 L301.3,2248.6 L304.3,2248.3 L307.3,2248.0 L310.3,2247.6 L313.3,2247.3 L316.3,2247.0 L319.3,2246.7 L322.3,2246.4 L325.3,2246.1 L328.3,2245.8 L331.3,2245.4 L334.3,2245.1 L337.3,2244.8 L340.3,2244.5 L343.3,2244.2 L346.3,2243.9 L349.3,2243.6 L352.3,2243.3 L355.3,2243.0 L358.3,2242.7 L361.3,2242.4 L364.3,2242.1 L367.3,2241.8 L370.3,2241.5 L373.3,2241.2 L376.3,2240.9 L379.3,2240.6 L382.3,2240.3 L385.3,2240.0 L388.3,2239.7 L391.3,2239.4 L394.3,2239.1 L397.3,2238.8 L400.3,2238.5 L403.3,2238.2 L406.3,2237.9 L409.3,2237.6 L412.3,2237.3 L415.3,2237.0 L418.3,2236.7 L421.3,2236.4 L424.3,2236.1 L427.3,2235.8 L430.3,2235.5 L433.3,2235.2 L436.3,2234.9 L439.3,2234.7 L442.3,2234.4 L445.3,2234.2 L448.3,2233.9 L451.3,2233.7 L454.3,2233.5 L457.3,2233.3 L460.3,2233.0 L463.3,2232.8 L466.3,2232.6 L469.3,2232.4 L472.3,2232.1 L475.3,2231.9 L478.3,2231.7 L481.3,2231.5 L484.3,2231.2 L487.3,2231.0 L490.3,2230.8 L493.3,2230.6 L496.3,2230.3 L499.3,2230.1 L502.3,2229.9 L505.3,2229.7 L508.3,2229.5 L511.3,2229.2 L514.3,2229.0 L517.3,2228.8 L520.3,2228.6 L523.3,2228.3 L526.3,2228.1 L529.3,2227.9 L532.3,2227.7 L535.3,2227.4 L538.3,2227.2 L541.3,2227.0 L544.3,2226.8 L547.3,2226.5 L550.3,2226.3 L553.3,2226.1 L556.3,2225.8 L559.3,2225.6 L562.3,2225.3 L565.3,2225.1 L568.3,2224.8 L571.3,2224.6 L574.3,2224.3 L577.3,2224.1 L580.3,2223.8 L583.3,2223.6 L586.3,2223.3 L589.3,2223.1 L592.3,2222.8 L595.3,2222.6 L598.3,2222.3 L601.3,2222.1 L604.3,2221.8 L607.3,2221.6 L610.3,2221.3 L613.3,2221.0 L616.3,2220.8 L619.3,2220.5 L622.3,2220.2 L625.3,2220.0 L628.3,2219.7 L631.3,2219.5 L634.3,2219.2 L637.3,2218.9 L640.3,2218.7 L643.3,2218.4 L646.3,2218.1 L649.3,2217.9 L652.3,2217.6 L655.3,2217.4 L658.3,2217.1 L661.3,2216.8 L664.3,2216.6 L667.3,2216.3 L670.3,2216.0 L673.3,2215.8 L676.3,2215.5 L679.3,2215.2 L682.3,2215.0 L685.3,2214.7 L688.3,2214.5 L691.3,2214.2 L694.3,2213.9 L697.3,2213.7 L700.3,2213.4 L703.3,2213.1 L706.3,2212.9 L709.3,2212.6 L712.3,2212.3 L715.3,2211.9 L718.3,2211.6 L721.3,2211.2 L724.3,2210.8 L727.3,2210.4 L730.3,2209.9 L733.3,2209.5 L736.3,2209.1 L739.3,2208.6 L742.3,2208.2 L745.3,2207.8 L748.3,2207.3 L751.3,2206.9 L754.3,2206.5 L757.3,2206.0 L760.3,2205.6 L763.3,2205.2 L766.3,2204.7 L769.3,2204.3 L772.3,2203.9 L775.3,2203.4 L778.3,2203.0 L781.3,2202.6 L784.3,2202.1 L787.3,2201.7 L790.3,2201.3 L793.3,2200.8 L796.3,2200.4 L799.3,2200.0 L802.3,2199.5 L805.3,2199.1 L808.3,2198.7 L811.3,2198.3 L814.3,2197.8 L817.3,2197.4 L820.3,2196.9 L823.3,2196.5 L826.3,2196.0 L829.3,2195.5 L832.3,2195.0 L835.3,2194.4 L838.3,2193.8 L841.3,2193.2 L844.3,2192.7 L847.3,2192.1 L850.3,2191.6 L853.3,2191.2 L856.3,2190.7 L859.3,2190.4 L862.3,2190.0 L865.3,2189.7 L868.3,2189.3 L871.3,2189.0 L874.3,2188.6 L877.3,2188.3 L880.3,2187.9 L883.3,2187.6 L886.3,2187.3 L889.3,2186.9 L892.3,2186.6 L895.3,2186.3 L898.3,2185.9 L901.3,2185.6 L904.3,2185.3 L907.3,2185.0 L910.3,2184.7 L913.3,2184.5 L916.3,2184.2 L919.3,2183.9 L922.3,2183.6 L925.3,2183.3 L928.3,2183.0 L931.3,2182.8 L934.3,2182.5 L937.3,2182.2 L940.3,2181.9 L943.3,2181.6 L946.3,2181.4 L949.3,2181.1 L952.3,2180.8 L955.3,2180.6 L958.3,2180.3 L961.3,2180.0 L964.3,2179.8 L967.3,2179.5 L970.3,2179.3 L973.3,2179.0 L976.3,2178.8 L979.3,2178.5 L982.3,2178.3 L985.3,2178.0 L988.3,2177.8 L991.3,2177.5 L994.3,2177.2 L997.3,2177.0 L1000.3,2176.6 L1003.3,2176.3 L1006.3,2175.9 L1009.3,2175.5 L1012.3,2175.1 L1015.3,2174.7 L1018.3,2174.2 L1021.3,2173.8 L1024.3,2173.3 L1027.3,2172.9 L1030.3,2172.4 L1033.3,2172.0 L1036.3,2171.5 L1039.3,2171.1 L1042.3,2170.7 L1045.3,2170.2 L1048.3,2169.8 L1051.3,2169.3 L1054.3,2168.9 L1057.3,2168.5 L1060.3,2168.1 L1063.3,2167.7 L1066.3,2167.3 L1069.3,2166.8 L1072.3,2166.4 L1075.3,2166.0 L1078.3,2165.6 L1081.3,2165.2 L1084.3,2164.8 L1087.3,2164.4 L1090.3,2163.9 L1093.3,2163.5 L1096.3,2163.1 L1099.3,2162.8 L1102.3,2162.4 L1105.3,2162.0 L1108.3,2161.7 L1111.3,2161.3 L1114.3,2161.0 L1117.3,2160.6 L1120.3,2160.3 L1123.3,2159.9 L1126.3,2159.6 L1129.3,2159.3 L1132.3,2158.9 L1135.3,2158.6 L1138.3,2158.2 L1141.3,2157.9 L1144.3,2157.5 L1147.3,2157.2 L1150.3,2156.9 L1153.3,2156.5 L1156.3,2156.2 L1159.3,2155.8 L1162.3,2155.5 L1165.3,2155.1 L1168.3,2154.8 L1171.3,2154.4 L1174.3,2154.1 L1177.3,2153.7 L1180.3,2153.4 L1183.3,2153.0 L1186.3,2152.7 L1189.3,2152.3 L1192.3,2152.0 L1195.3,2151.6 L1198.3,2151.3 L1201.3,2150.9 L1204.3,2150.6 L1207.3,2150.3 L1210.3,2149.9 L1213.3,2149.6 L1216.3,2149.2 L1219.3,2148.9 L1222.3,2148.5 L1225.3,2148.2 L1228.3,2147.8 L1231.3,2147.5 L1234.3,2147.1 L1237.3,2146.8 L1240.3,2146.4 L1243.3,2146.1 L1246.3,2145.7 L1249.3,2145.4 L1252.3,2145.0 L1255.3,2144.7 L1258.3,2144.3 L1261.3,2144.0 L1264.3,2143.6 L1267.3,2143.3 L1270.3,2142.9 L1273.3,2142.5 L1276.3,2142.2 L1279.3,2141.8 L1282.3,2141.5 L1285.3,2141.2 L1288.3,2140.8 L1291.3,2140.5 L1294.3,2140.1 L1297.3,2139.8 L1300.3,2139.5 L1303.3,2139.1 L1306.3,2138.8 L1309.3,2138.4 L1312.3,2138.1 L1315.3,2137.8 L1318.3,2137.4 L1321.3,2137.1 L1324.3,2136.7 L1327.3,2136.4 L1330.3,2136.1 L1333.3,2135.7 L1336.3,2135.4 L1339.3,2135.1 L1342.3,2134.7 L1345.3,2134.4 L1348.3,2134.0 L1351.3,2133.7 L1354.3,2133.4 L1357.3,2133.0 L1360.3,2132.7 L1363.3,2132.3 L1366.3,2132.0 L1369.3,2131.7 L1372.3,2131.3 L1375.3,2131.0 L1378.3,2130.7 L1381.3,2130.3 L1384.3,2130.0 L1387.3,2129.6 L1390.3,2129.3 L1393.3,2128.9 L1396.3,2128.6 L1399.3,2128.2 L1402.3,2127.8 L1405.3,2127.4 L1408.3,2127.0 L1411.3,2126.7 L1414.3,2126.3 L1417.3,2125.9 L1420.3,2125.5 L1423.3,2125.1 L1426.3,2124.7 L1429.3,2124.3 L1432.3,2123.9 L1435.3,2123.5 L1438.3,2123.1 L1441.3,2122.7 L1444.3,2122.3 L1447.3,2121.8 L1450.3,2121.4 L1453.3,2120.8 L1456.3,2120.3 L1459.3,2119.7 L1462.3,2119.1 L1465.3,2118.5 L1468.3,2117.9 L1471.3,2117.3 L1474.3,2116.7 L1477.3,2116.1 L1480.3,2115.5 L1483.3,2114.9 L1486.3,2114.3 L1489.3,2113.7 L1492.3,2113.1 L1495.3,2112.5 L1498.3,2111.9 L1501.3,2111.3 L1504.3,2110.7 L1507.3,2110.1 L1510.3,2109.5 L1513.3,2108.9 L1516.3,2108.3 L1519.3,2107.7 L1522.3,2107.1 L1525.3,2106.5 L1528.3,2105.9 L1531.3,2105.3 L1534.3,2104.7 L1537.3,2104.1 L1540.3,2103.5 L1543.3,2102.9 L1546.3,2102.3 L1549.3,2101.7 L1552.3,2101.1 L1555.3,2100.5 L1558.3,2099.9 L1561.3,2099.2 L1564.3,2098.5 L1567.3,2097.8 L1570.3,2097.1 L1573.3,2096.3 L1576.3,2095.6 L1579.3,2094.8 L1582.3,2094.1 L1585.3,2093.3 L1588.3,2092.6 L1591.3,2091.8 L1594.3,2091.1 L1597.3,2090.3 L1600.3,2089.6 L1603.3,2088.8 L1606.3,2088.1 L1609.3,2087.3 L1612.3,2086.6 L1615.3,2085.8 L1618.3,2085.0 L1621.3,2084.3 L1624.3,2083.5 L1627.3,2082.8 L1630.3,2082.0 L1633.3,2081.3 L1636.3,2080.5 L1639.3,2079.8 L1642.3,2079.0 L1645.3,2078.3 L1648.3,2077.5 L1651.3,2076.8 L1654.3,2076.0 L1657.3,2075.3 L1660.3,2074.5 L1663.3,2073.7 L1666.3,2072.9 L1669.3,2072.1 L1672.3,2071.2 L1675.3,2070.2 L1678.3,2069.2 L1681.3,2068.2 L1684.3,2067.1 L1687.3,2066.1 L1690.3,2065.0 L1693.3,2063.9 L1696.3,2062.8 L1699.3,2061.7 L1702.3,2060.6 L1705.3,2059.5 L1708.3,2058.4 L1711.3,2057.1 L1714.3,2055.7 L1717.3,2054.0 L1720.3,2052.0 L1723.3,2049.6 L1726.3,2046.8 L1729.3,2043.7 L1732.3,2040.5 L1735.3,2037.3 L1738.3,2033.9 L1741.3,2030.5 L1744.3,2027.1 L1747.3,2023.6 L1750.3,2020.1 L1753.3,2016.6 L1756.3,2013.0 L1759.3,2009.4 L1762.3,2005.8 L1765.3,2002.2 L1768.3,1998.6 L1771.3,1995.1 L1774.3,1991.5 L1777.3,1988.0 L1780.3,1984.6 L1783.3,1981.2 L1786.3,1978.0 L1789.3,1974.8 L1792.3,1971.8 L1795.3,1968.7 L1798.3,1965.7 L1801.3,1962.7 L1804.3,1959.7 L1807.3,1956.7 L1810.3,1953.7 L1813.3,1950.7 L1816.3,1947.7 L1819.3,1944.7 L1822.3,1941.7 L1825.3,1938.7 L1828.3,1935.7 L1831.3,1932.6 L1834.3,1929.5 L1837.3,1926.4 L1840.3,1923.2 L1843.3,1919.9 L1846.3,1916.6 L1849.3,1913.2 L1852.3,1909.9 L1855.3,1906.5 L1858.3,1903.1 L1861.3,1899.7 L1864.3,1896.3 L1867.3,1892.9 L1870.3,1889.5 L1873.3,1886.1 L1876.3,1882.7 L1879.3,1879.3 L1882.3,1875.9 L1885.3,1872.5 L1888.3,1869.1 L1891.3,1865.7 L1894.3,1862.3 L1897.3,1858.9 L1900.3,1855.6 L1903.3,1852.3 L1906.3,1849.2 L1909.3,1846.1 L1912.3,1843.3 L1915.3,1840.5 L1918.3,1838.0 L1921.3,1835.6 L1924.3,1833.3 L1925.8,1831.1" fill="none" stroke="#2E93D1" stroke-width="5.5" stroke-linejoin="round"/>
<path d="M175.3,2264.5 L178.3,2264.4 L181.3,2264.3 L184.3,2264.2 L187.3,2264.1 L190.3,2264.0 L193.3,2263.9 L196.3,2263.7 L199.3,2263.6 L202.3,2263.5 L205.3,2263.4 L208.3,2263.3 L211.3,2263.2 L214.3,2263.1 L217.3,2263.0 L220.3,2262.9 L223.3,2262.8 L226.3,2262.7 L229.3,2262.6 L232.3,2262.5 L235.3,2262.3 L238.3,2262.2 L241.3,2262.1 L244.3,2262.0 L247.3,2261.9 L250.3,2261.8 L253.3,2261.7 L256.3,2261.6 L259.3,2261.5 L262.3,2261.4 L265.3,2261.3 L268.3,2261.2 L271.3,2261.1 L274.3,2260.9 L277.3,2260.8 L280.3,2260.7 L283.3,2260.6 L286.3,2260.5 L289.3,2260.4 L292.3,2260.3 L295.3,2260.2 L298.3,2260.1 L301.3,2260.0 L304.3,2259.9 L307.3,2259.8 L310.3,2259.6 L313.3,2259.5 L316.3,2259.4 L319.3,2259.3 L322.3,2259.2 L325.3,2259.0 L328.3,2258.9 L331.3,2258.7 L334.3,2258.6 L337.3,2258.4 L340.3,2258.3 L343.3,2258.1 L346.3,2257.9 L349.3,2257.8 L352.3,2257.6 L355.3,2257.5 L358.3,2257.3 L361.3,2257.1 L364.3,2257.0 L367.3,2256.8 L370.3,2256.6 L373.3,2256.5 L376.3,2256.3 L379.3,2256.2 L382.3,2256.0 L385.3,2255.8 L388.3,2255.7 L391.3,2255.5 L394.3,2255.4 L397.3,2255.2 L400.3,2255.0 L403.3,2254.9 L406.3,2254.7 L409.3,2254.5 L412.3,2254.4 L415.3,2254.2 L418.3,2254.1 L421.3,2253.9 L424.3,2253.7 L427.3,2253.6 L430.3,2253.4 L433.3,2253.2 L436.3,2253.0 L439.3,2252.8 L442.3,2252.5 L445.3,2252.3 L448.3,2252.0 L451.3,2251.7 L454.3,2251.4 L457.3,2251.1 L460.3,2250.9 L463.3,2250.6 L466.3,2250.3 L469.3,2250.0 L472.3,2249.7 L475.3,2249.4 L478.3,2249.1 L481.3,2248.8 L484.3,2248.5 L487.3,2248.2 L490.3,2248.0 L493.3,2247.7 L496.3,2247.4 L499.3,2247.1 L502.3,2246.8 L505.3,2246.5 L508.3,2246.2 L511.3,2245.9 L514.3,2245.6 L517.3,2245.4 L520.3,2245.1 L523.3,2244.8 L526.3,2244.5 L529.3,2244.2 L532.3,2243.9 L535.3,2243.6 L538.3,2243.3 L541.3,2243.0 L544.3,2242.8 L547.3,2242.5 L550.3,2242.2 L553.3,2241.8 L556.3,2241.5 L559.3,2241.2 L562.3,2240.9 L565.3,2240.5 L568.3,2240.2 L571.3,2239.9 L574.3,2239.5 L577.3,2239.2 L580.3,2238.8 L583.3,2238.5 L586.3,2238.1 L589.3,2237.8 L592.3,2237.5 L595.3,2237.1 L598.3,2236.7 L601.3,2236.3 L604.3,2235.9 L607.3,2235.5 L610.3,2235.0 L613.3,2234.6 L616.3,2234.1 L619.3,2233.7 L622.3,2233.2 L625.3,2232.8 L628.3,2232.3 L631.3,2231.8 L634.3,2231.4 L637.3,2230.9 L640.3,2230.5 L643.3,2230.0 L646.3,2229.6 L649.3,2229.1 L652.3,2228.7 L655.3,2228.2 L658.3,2227.8 L661.3,2227.3 L664.3,2226.9 L667.3,2226.4 L670.3,2226.0 L673.3,2225.5 L676.3,2225.1 L679.3,2224.6 L682.3,2224.2 L685.3,2223.7 L688.3,2223.3 L691.3,2222.9 L694.3,2222.4 L697.3,2222.0 L700.3,2221.5 L703.3,2221.1 L706.3,2220.6 L709.3,2220.2 L712.3,2219.7 L715.3,2219.3 L718.3,2218.9 L721.3,2218.5 L724.3,2218.1 L727.3,2217.6 L730.3,2217.2 L733.3,2216.8 L736.3,2216.4 L739.3,2216.0 L742.3,2215.6 L745.3,2215.2 L748.3,2214.8 L751.3,2214.3 L754.3,2213.9 L757.3,2213.5 L760.3,2213.1 L763.3,2212.7 L766.3,2212.3 L769.3,2211.9 L772.3,2211.5 L775.3,2211.1 L778.3,2210.6 L781.3,2210.2 L784.3,2209.8 L787.3,2209.4 L790.3,2209.0 L793.3,2208.6 L796.3,2208.2 L799.3,2207.8 L802.3,2207.4 L805.3,2206.9 L808.3,2206.5 L811.3,2206.1 L814.3,2205.7 L817.3,2205.3 L820.3,2204.9 L823.3,2204.4 L826.3,2204.0 L829.3,2203.5 L832.3,2202.9 L835.3,2202.4 L838.3,2201.7 L841.3,2201.1 L844.3,2200.5 L847.3,2199.8 L850.3,2199.2 L853.3,2198.5 L856.3,2197.9 L859.3,2197.2 L862.3,2196.6 L865.3,2195.9 L868.3,2195.3 L871.3,2194.6 L874.3,2193.9 L877.3,2193.3 L880.3,2192.6 L883.3,2192.0 L886.3,2191.3 L889.3,2190.7 L892.3,2190.0 L895.3,2189.4 L898.3,2188.7 L901.3,2188.1 L904.3,2187.4 L907.3,2186.7 L910.3,2186.0 L913.3,2185.2 L916.3,2184.4 L919.3,2183.5 L922.3,2182.5 L925.3,2181.5 L928.3,2180.4 L931.3,2179.3 L934.3,2178.1 L937.3,2177.0 L940.3,2175.9 L943.3,2174.8 L946.3,2173.6 L949.3,2172.5 L952.3,2171.4 L955.3,2170.3 L958.3,2169.1 L961.3,2168.0 L964.3,2166.9 L967.3,2165.7 L970.3,2164.5 L973.3,2163.3 L976.3,2162.1 L979.3,2160.8 L982.3,2159.5 L985.3,2158.2 L988.3,2156.8 L991.3,2155.5 L994.3,2154.2 L997.3,2152.8 L1000.3,2151.5 L1003.3,2150.1 L1006.3,2148.8 L1009.3,2147.4 L1012.3,2146.1 L1015.3,2144.7 L1018.3,2143.4 L1021.3,2142.0 L1024.3,2140.7 L1027.3,2139.3 L1030.3,2138.0 L1033.3,2136.7 L1036.3,2135.4 L1039.3,2134.1 L1042.3,2132.8 L1045.3,2131.5 L1048.3,2130.2 L1051.3,2128.9 L1054.3,2127.6 L1057.3,2126.3 L1060.3,2125.0 L1063.3,2123.8 L1066.3,2122.5 L1069.3,2121.2 L1072.3,2119.9 L1075.3,2118.6 L1078.3,2117.3 L1081.3,2116.0 L1084.3,2114.7 L1087.3,2113.5 L1090.3,2112.2 L1093.3,2111.0 L1096.3,2109.8 L1099.3,2108.7 L1102.3,2107.6 L1105.3,2106.7 L1108.3,2105.8 L1111.3,2104.9 L1114.3,2104.0 L1117.3,2103.2 L1120.3,2102.4 L1123.3,2101.5 L1126.3,2100.7 L1129.3,2099.9 L1132.3,2099.0 L1135.3,2098.2 L1138.3,2097.4 L1141.3,2096.5 L1144.3,2095.7 L1147.3,2094.9 L1150.3,2094.0 L1153.3,2093.2 L1156.3,2092.4 L1159.3,2091.6 L1162.3,2090.9 L1165.3,2090.2 L1168.3,2089.5 L1171.3,2088.9 L1174.3,2088.3 L1177.3,2087.8 L1180.3,2087.3 L1183.3,2086.7 L1186.3,2086.2 L1189.3,2085.7 L1192.3,2085.1 L1195.3,2084.6 L1198.3,2084.1 L1201.3,2083.6 L1204.3,2083.0 L1207.3,2082.5 L1210.3,2082.0 L1213.3,2081.5 L1216.3,2080.9 L1219.3,2080.4 L1222.3,2079.9 L1225.3,2079.4 L1228.3,2078.9 L1231.3,2078.4 L1234.3,2077.9 L1237.3,2077.4 L1240.3,2076.9 L1243.3,2076.4 L1246.3,2075.9 L1249.3,2075.4 L1252.3,2074.9 L1255.3,2074.4 L1258.3,2073.9 L1261.3,2073.4 L1264.3,2072.9 L1267.3,2072.4 L1270.3,2071.9 L1273.3,2071.4 L1276.3,2070.9 L1279.3,2070.4 L1282.3,2069.9 L1285.3,2069.4 L1288.3,2068.9 L1291.3,2068.4 L1294.3,2067.9 L1297.3,2067.4 L1300.3,2066.8 L1303.3,2066.2 L1306.3,2065.6 L1309.3,2064.8 L1312.3,2064.0 L1315.3,2063.0 L1318.3,2062.0 L1321.3,2060.9 L1324.3,2059.8 L1327.3,2058.7 L1330.3,2057.6 L1333.3,2056.5 L1336.3,2055.4 L1339.3,2054.3 L1342.3,2053.2 L1345.3,2052.0 L1348.3,2050.8 L1351.3,2049.5 L1354.3,2048.2 L1357.3,2046.7 L1360.3,2045.2 L1363.3,2043.7 L1366.3,2042.1 L1369.3,2040.5 L1372.3,2038.9 L1375.3,2037.3 L1378.3,2035.7 L1381.3,2034.1 L1384.3,2032.5 L1387.3,2030.9 L1390.3,2029.3 L1393.3,2027.7 L1396.3,2026.1 L1399.3,2024.5 L1402.3,2022.9 L1405.3,2021.3 L1408.3,2019.6 L1411.3,2018.0 L1414.3,2016.4 L1417.3,2014.8 L1420.3,2013.1 L1423.3,2011.5 L1426.3,2009.9 L1429.3,2008.3 L1432.3,2006.7 L1435.3,2005.0 L1438.3,2003.4 L1441.3,2001.7 L1444.3,2000.0 L1447.3,1998.3 L1450.3,1996.4 L1453.3,1994.4 L1456.3,1992.2 L1459.3,1990.0 L1462.3,1987.7 L1465.3,1985.3 L1468.3,1982.9 L1471.3,1980.5 L1474.3,1978.1 L1477.3,1975.6 L1480.3,1973.2 L1483.3,1970.8 L1486.3,1968.4 L1489.3,1966.0 L1492.3,1963.6 L1495.3,1961.2 L1498.3,1958.8 L1501.3,1956.4 L1504.3,1954.0 L1507.3,1951.6 L1510.3,1949.2 L1513.3,1946.9 L1516.3,1944.6 L1519.3,1942.3 L1522.3,1940.0 L1525.3,1937.7 L1528.3,1935.5 L1531.3,1933.2 L1534.3,1930.9 L1537.3,1928.6 L1540.3,1926.4 L1543.3,1924.1 L1546.3,1921.8 L1549.3,1919.6 L1552.3,1917.3 L1555.3,1915.2 L1558.3,1913.0 L1561.3,1911.0 L1564.3,1909.0 L1567.3,1907.1 L1570.3,1905.3 L1573.3,1903.5 L1576.3,1901.8 L1579.3,1900.0 L1582.3,1898.3 L1585.3,1896.5 L1588.3,1894.8 L1591.3,1893.0 L1594.3,1891.3 L1597.3,1889.5 L1600.3,1887.8 L1603.3,1886.0 L1606.3,1884.3 L1609.3,1882.5 L1612.3,1880.8 L1615.3,1879.0 L1618.3,1877.2 L1621.3,1875.5 L1624.3,1873.7 L1627.3,1872.0 L1630.3,1870.2 L1633.3,1868.5 L1636.3,1866.7 L1639.3,1865.0 L1642.3,1863.2 L1645.3,1861.5 L1648.3,1859.7 L1651.3,1858.0 L1654.3,1856.2 L1657.3,1854.5 L1660.3,1852.7 L1663.3,1850.9 L1666.3,1849.1 L1669.3,1847.3 L1672.3,1845.4 L1675.3,1843.4 L1678.3,1841.4 L1681.3,1839.2 L1684.3,1837.0 L1687.3,1834.5 L1690.3,1831.8 L1693.3,1828.8 L1696.3,1825.6 L1699.3,1822.3 L1702.3,1818.7 L1705.3,1815.1 L1708.3,1811.5 L1711.3,1807.8 L1714.3,1804.0 L1717.3,1800.3 L1720.3,1796.5 L1723.3,1792.7 L1726.3,1788.9 L1729.3,1785.1 L1732.3,1781.3 L1735.3,1777.5 L1738.3,1773.7 L1741.3,1769.9 L1744.3,1766.1 L1747.3,1762.3 L1750.3,1758.5 L1753.3,1754.7 L1756.3,1750.9 L1759.3,1747.1 L1762.3,1743.2 L1765.3,1739.4 L1768.3,1735.5 L1771.3,1731.6 L1774.3,1727.7 L1777.3,1723.8 L1780.3,1719.9 L1783.3,1716.0 L1786.3,1712.1 L1789.3,1708.2 L1792.3,1704.3 L1795.3,1700.4 L1798.3,1696.5 L1801.3,1692.6 L1804.3,1688.7 L1807.3,1684.8 L1810.3,1680.9 L1813.3,1677.0 L1816.3,1673.1 L1819.3,1669.1 L1822.3,1665.2 L1825.3,1661.2 L1828.3,1657.2 L1831.3,1653.2 L1834.3,1649.2 L1837.3,1645.2 L1840.3,1641.2 L1843.3,1637.2 L1846.3,1633.2 L1849.3,1629.2 L1852.3,1625.2 L1855.3,1621.2 L1858.3,1617.2 L1861.3,1613.2 L1864.3,1609.2 L1867.3,1605.1 L1870.3,1601.0 L1873.3,1596.8 L1876.3,1592.5 L1879.3,1588.1 L1882.3,1583.6 L1885.3,1579.0 L1888.3,1574.4 L1891.3,1569.7 L1894.3,1565.1 L1897.3,1560.4 L1900.3,1555.8 L1903.3,1551.3 L1906.3,1546.9 L1909.3,1542.7 L1912.3,1538.7 L1915.3,1534.9 L1918.3,1531.2 L1921.3,1527.8 L1924.3,1524.6 L1925.8,1521.5" fill="none" stroke="#C00A23" stroke-width="5.5" stroke-linejoin="round"/>
<path d="M175.3,2257.8 L178.3,2257.3 L181.3,2256.8 L184.3,2256.4 L187.3,2255.9 L190.3,2255.4 L193.3,2254.9 L196.3,2254.4 L199.3,2254.0 L202.3,2253.5 L205.3,2253.0 L208.3,2252.5 L211.3,2252.0 L214.3,2251.6 L217.3,2251.1 L220.3,2250.6 L223.3,2250.1 L226.3,2249.7 L229.3,2249.2 L232.3,2248.7 L235.3,2248.2 L238.3,2247.7 L241.3,2247.3 L244.3,2246.8 L247.3,2246.3 L250.3,2245.8 L253.3,2245.3 L256.3,2244.9 L259.3,2244.4 L262.3,2243.9 L265.3,2243.4 L268.3,2242.9 L271.3,2242.5 L274.3,2242.0 L277.3,2241.5 L280.3,2241.0 L283.3,2240.5 L286.3,2240.1 L289.3,2239.6 L292.3,2239.1 L295.3,2238.6 L298.3,2238.2 L301.3,2237.7 L304.3,2237.2 L307.3,2236.7 L310.3,2236.2 L313.3,2235.8 L316.3,2235.3 L319.3,2234.9 L322.3,2234.4 L325.3,2234.0 L328.3,2233.6 L331.3,2233.2 L334.3,2232.7 L337.3,2232.3 L340.3,2231.9 L343.3,2231.5 L346.3,2231.1 L349.3,2230.7 L352.3,2230.3 L355.3,2229.9 L358.3,2229.5 L361.3,2229.1 L364.3,2228.7 L367.3,2228.3 L370.3,2227.9 L373.3,2227.5 L376.3,2227.1 L379.3,2226.7 L382.3,2226.3 L385.3,2225.9 L388.3,2225.5 L391.3,2225.1 L394.3,2224.7 L397.3,2224.3 L400.3,2223.9 L403.3,2223.5 L406.3,2223.1 L409.3,2222.7 L412.3,2222.3 L415.3,2221.9 L418.3,2221.5 L421.3,2221.1 L424.3,2220.7 L427.3,2220.3 L430.3,2219.8 L433.3,2219.2 L436.3,2218.4 L439.3,2217.5 L442.3,2216.4 L445.3,2215.2 L448.3,2213.9 L451.3,2212.5 L454.3,2211.0 L457.3,2209.6 L460.3,2208.3 L463.3,2207.0 L466.3,2205.7 L469.3,2204.6 L472.3,2203.6 L475.3,2202.6 L478.3,2201.7 L481.3,2200.8 L484.3,2199.9 L487.3,2199.1 L490.3,2198.2 L493.3,2197.3 L496.3,2196.5 L499.3,2195.6 L502.3,2194.7 L505.3,2193.9 L508.3,2193.0 L511.3,2192.1 L514.3,2191.3 L517.3,2190.4 L520.3,2189.5 L523.3,2188.7 L526.3,2187.8 L529.3,2186.9 L532.3,2186.0 L535.3,2185.2 L538.3,2184.3 L541.3,2183.5 L544.3,2182.6 L547.3,2181.8 L550.3,2181.1 L553.3,2180.4 L556.3,2179.7 L559.3,2179.2 L562.3,2178.7 L565.3,2178.2 L568.3,2177.8 L571.3,2177.3 L574.3,2176.9 L577.3,2176.4 L580.3,2176.0 L583.3,2175.5 L586.3,2175.1 L589.3,2174.7 L592.3,2174.3 L595.3,2173.8 L598.3,2173.4 L601.3,2172.9 L604.3,2172.4 L607.3,2171.9 L610.3,2171.4 L613.3,2170.9 L616.3,2170.3 L619.3,2169.8 L622.3,2169.3 L625.3,2168.8 L628.3,2168.2 L631.3,2167.7 L634.3,2167.2 L637.3,2166.7 L640.3,2166.1 L643.3,2165.6 L646.3,2165.1 L649.3,2164.6 L652.3,2164.1 L655.3,2163.7 L658.3,2163.3 L661.3,2162.9 L664.3,2162.6 L667.3,2162.3 L670.3,2162.1 L673.3,2161.8 L676.3,2161.5 L679.3,2161.3 L682.3,2161.0 L685.3,2160.8 L688.3,2160.5 L691.3,2160.3 L694.3,2160.0 L697.3,2159.8 L700.3,2159.5 L703.3,2159.3 L706.3,2159.0 L709.3,2158.8 L712.3,2158.5 L715.3,2158.3 L718.3,2158.0 L721.3,2157.8 L724.3,2157.5 L727.3,2157.3 L730.3,2157.0 L733.3,2156.8 L736.3,2156.5 L739.3,2156.2 L742.3,2155.9 L745.3,2155.5 L748.3,2155.1 L751.3,2154.7 L754.3,2154.2 L757.3,2153.8 L760.3,2153.3 L763.3,2152.8 L766.3,2152.3 L769.3,2151.9 L772.3,2151.4 L775.3,2150.9 L778.3,2150.4 L781.3,2149.9 L784.3,2149.5 L787.3,2149.0 L790.3,2148.5 L793.3,2148.0 L796.3,2147.5 L799.3,2147.1 L802.3,2146.6 L805.3,2146.1 L808.3,2145.7 L811.3,2145.3 L814.3,2145.0 L817.3,2144.8 L820.3,2144.7 L823.3,2144.7 L826.3,2144.7 L829.3,2144.7 L832.3,2144.7 L835.3,2144.8 L838.3,2144.9 L841.3,2144.9 L844.3,2145.0 L847.3,2145.1 L850.3,2145.1 L853.3,2145.2 L856.3,2145.2 L859.3,2145.3 L862.3,2145.4 L865.3,2145.4 L868.3,2145.5 L871.3,2145.6 L874.3,2145.6 L877.3,2145.7 L880.3,2145.8 L883.3,2145.8 L886.3,2145.9 L889.3,2146.0 L892.3,2146.1 L895.3,2146.3 L898.3,2146.4 L901.3,2146.5 L904.3,2146.7 L907.3,2146.8 L910.3,2147.0 L913.3,2147.1 L916.3,2147.3 L919.3,2147.4 L922.3,2147.6 L925.3,2147.7 L928.3,2147.9 L931.3,2148.0 L934.3,2148.1 L937.3,2148.2 L940.3,2148.3 L943.3,2148.2 L946.3,2148.1 L949.3,2147.9 L952.3,2147.6 L955.3,2147.2 L958.3,2146.8 L961.3,2146.4 L964.3,2145.9 L967.3,2145.5 L970.3,2145.0 L973.3,2144.6 L976.3,2144.1 L979.3,2143.7 L982.3,2143.2 L985.3,2142.8 L988.3,2142.3 L991.3,2141.9 L994.3,2141.4 L997.3,2140.8 L1000.3,2140.2 L1003.3,2139.6 L1006.3,2138.8 L1009.3,2137.9 L1012.3,2137.0 L1015.3,2136.0 L1018.3,2135.1 L1021.3,2134.1 L1024.3,2133.1 L1027.3,2132.1 L1030.3,2131.1 L1033.3,2130.1 L1036.3,2129.0 L1039.3,2128.0 L1042.3,2126.8 L1045.3,2125.6 L1048.3,2124.4 L1051.3,2123.0 L1054.3,2121.5 L1057.3,2120.0 L1060.3,2118.5 L1063.3,2117.0 L1066.3,2115.4 L1069.3,2113.9 L1072.3,2112.3 L1075.3,2110.8 L1078.3,2109.2 L1081.3,2107.7 L1084.3,2106.1 L1087.3,2104.6 L1090.3,2103.0 L1093.3,2101.4 L1096.3,2099.7 L1099.3,2098.0 L1102.3,2096.2 L1105.3,2094.4 L1108.3,2092.5 L1111.3,2090.6 L1114.3,2088.6 L1117.3,2086.7 L1120.3,2084.7 L1123.3,2082.7 L1126.3,2080.8 L1129.3,2078.8 L1132.3,2076.8 L1135.3,2074.9 L1138.3,2072.9 L1141.3,2071.0 L1144.3,2069.0 L1147.3,2067.0 L1150.3,2065.1 L1153.3,2063.1 L1156.3,2061.2 L1159.3,2059.4 L1162.3,2057.6 L1165.3,2056.0 L1168.3,2054.6 L1171.3,2053.2 L1174.3,2052.0 L1177.3,2050.8 L1180.3,2049.6 L1183.3,2048.5 L1186.3,2047.4 L1189.3,2046.3 L1192.3,2045.1 L1195.3,2044.0 L1198.3,2042.9 L1201.3,2041.8 L1204.3,2040.6 L1207.3,2039.5 L1210.3,2038.4 L1213.3,2037.3 L1216.3,2036.3 L1219.3,2035.3 L1222.3,2034.3 L1225.3,2033.5 L1228.3,2032.7 L1231.3,2032.1 L1234.3,2031.4 L1237.3,2030.8 L1240.3,2030.2 L1243.3,2029.6 L1246.3,2029.1 L1249.3,2028.7 L1252.3,2028.3 L1255.3,2028.0 L1258.3,2027.8 L1261.3,2027.6 L1264.3,2027.5 L1267.3,2027.4 L1270.3,2027.3 L1273.3,2027.2 L1276.3,2027.1 L1279.3,2027.0 L1282.3,2026.9 L1285.3,2026.8 L1288.3,2026.6 L1291.3,2026.3 L1294.3,2026.0 L1297.3,2025.6 L1300.3,2025.0 L1303.3,2024.4 L1306.3,2023.8 L1309.3,2023.1 L1312.3,2022.4 L1315.3,2021.7 L1318.3,2021.0 L1321.3,2020.3 L1324.3,2019.6 L1327.3,2018.9 L1330.3,2018.2 L1333.3,2017.6 L1336.3,2016.9 L1339.3,2016.4 L1342.3,2015.8 L1345.3,2015.3 L1348.3,2014.8 L1351.3,2014.3 L1354.3,2013.8 L1357.3,2013.3 L1360.3,2012.8 L1363.3,2012.4 L1366.3,2011.9 L1369.3,2011.4 L1372.3,2010.9 L1375.3,2010.4 L1378.3,2010.0 L1381.3,2009.5 L1384.3,2009.0 L1387.3,2008.4 L1390.3,2007.8 L1393.3,2007.2 L1396.3,2006.4 L1399.3,2005.5 L1402.3,2004.5 L1405.3,2003.5 L1408.3,2002.4 L1411.3,2001.2 L1414.3,2000.0 L1417.3,1998.7 L1420.3,1997.2 L1423.3,1995.6 L1426.3,1993.6 L1429.3,1991.5 L1432.3,1989.1 L1435.3,1986.6 L1438.3,1984.0 L1441.3,1981.4 L1444.3,1978.6 L1447.3,1975.8 L1450.3,1972.9 L1453.3,1969.8 L1456.3,1966.6 L1459.3,1963.3 L1462.3,1959.9 L1465.3,1956.4 L1468.3,1952.9 L1471.3,1949.4 L1474.3,1945.8 L1477.3,1942.3 L1480.3,1938.7 L1483.3,1935.1 L1486.3,1931.5 L1489.3,1927.9 L1492.3,1924.2 L1495.3,1920.4 L1498.3,1916.7 L1501.3,1913.0 L1504.3,1909.3 L1507.3,1905.6 L1510.3,1901.8 L1513.3,1898.1 L1516.3,1894.4 L1519.3,1890.7 L1522.3,1887.0 L1525.3,1883.3 L1528.3,1879.7 L1531.3,1876.1 L1534.3,1872.4 L1537.3,1868.8 L1540.3,1865.2 L1543.3,1861.6 L1546.3,1858.1 L1549.3,1854.5 L1552.3,1851.0 L1555.3,1847.5 L1558.3,1844.2 L1561.3,1841.0 L1564.3,1838.0 L1567.3,1835.2 L1570.3,1832.4 L1573.3,1829.8 L1576.3,1827.2 L1579.3,1824.5 L1582.3,1821.9 L1585.3,1819.3 L1588.3,1816.7 L1591.3,1814.1 L1594.3,1811.5 L1597.3,1808.9 L1600.3,1806.3 L1603.3,1803.8 L1606.3,1801.2 L1609.3,1798.7 L1612.3,1796.2 L1615.3,1793.8 L1618.3,1791.5 L1621.3,1789.3 L1624.3,1787.2 L1627.3,1785.1 L1630.3,1783.1 L1633.3,1781.1 L1636.3,1779.1 L1639.3,1777.1 L1642.3,1775.1 L1645.3,1773.1 L1648.3,1771.1 L1651.3,1769.1 L1654.3,1767.1 L1657.3,1765.1 L1660.3,1763.1 L1663.3,1761.2 L1666.3,1759.3 L1669.3,1757.5 L1672.3,1755.7 L1675.3,1754.1 L1678.3,1752.6 L1681.3,1751.2 L1684.3,1749.8 L1687.3,1748.4 L1690.3,1747.0 L1693.3,1745.7 L1696.3,1744.3 L1699.3,1743.0 L1702.3,1741.7 L1705.3,1740.5 L1708.3,1739.4 L1711.3,1738.3 L1714.3,1737.3 L1717.3,1736.4 L1720.3,1735.5 L1723.3,1734.7 L1726.3,1733.9 L1729.3,1733.0 L1732.3,1732.2 L1735.3,1731.4 L1738.3,1730.6 L1741.3,1729.7 L1744.3,1728.9 L1747.3,1728.1 L1750.3,1727.3 L1753.3,1726.4 L1756.3,1725.6 L1759.3,1724.8 L1762.3,1724.0 L1765.3,1723.2 L1768.3,1722.3 L1771.3,1721.5 L1774.3,1720.7 L1777.3,1720.0 L1780.3,1719.2 L1783.3,1718.6 L1786.3,1718.0 L1789.3,1717.4 L1792.3,1716.9 L1795.3,1716.5 L1798.3,1716.0 L1801.3,1715.6 L1804.3,1715.1 L1807.3,1714.7 L1810.3,1714.2 L1813.3,1713.8 L1816.3,1713.3 L1819.3,1712.9 L1822.3,1712.4 L1825.3,1712.0 L1828.3,1711.5 L1831.3,1711.1 L1834.3,1710.6 L1837.3,1710.2 L1840.3,1709.7 L1843.3,1709.3 L1846.3,1708.8 L1849.3,1708.4 L1852.3,1708.0 L1855.3,1707.6 L1858.3,1707.2 L1861.3,1706.9 L1864.3,1706.6 L1867.3,1706.4 L1870.3,1706.1 L1873.3,1705.9 L1876.3,1705.6 L1879.3,1705.4 L1882.3,1705.1 L1885.3,1704.9 L1888.3,1704.7 L1891.3,1704.4 L1894.3,1704.2 L1897.3,1703.9 L1900.3,1703.7 L1903.3,1703.4 L1906.3,1703.2 L1909.3,1702.9 L1912.3,1702.7 L1915.3,1702.5 L1918.3,1702.2 L1921.3,1702.0 L1924.3,1701.8 L1925.8,1701.6" fill="none" stroke="#EE9517" stroke-width="5.5" stroke-linejoin="round"/>
<path d="M175.3,2254.5 C180.2,2253.3 195.1,2249.7 205.0,2247.3 C214.9,2244.9 224.7,2242.6 234.6,2240.2 C244.5,2237.8 254.4,2235.4 264.3,2233.0 C274.2,2230.6 284.1,2228.1 294.0,2225.7 C303.9,2223.3 313.8,2220.9 323.6,2218.6 C333.5,2216.2 343.4,2213.9 353.3,2211.6 C363.2,2209.3 373.1,2207.0 383.0,2204.6 C392.9,2202.3 402.8,2200.1 412.7,2197.7 C422.5,2195.3 432.4,2193.0 442.3,2190.1 C452.2,2187.3 462.1,2183.4 472.0,2180.4 C481.9,2177.4 491.8,2175.0 501.7,2172.3 C511.6,2169.5 521.4,2167.0 531.3,2164.1 C541.2,2161.3 551.1,2158.5 561.0,2155.2 C570.9,2151.9 580.8,2147.5 590.7,2144.3 C600.6,2141.0 610.5,2138.4 620.3,2135.7 C630.2,2133.1 640.1,2131.2 650.0,2128.3 C659.9,2125.4 669.8,2121.9 679.7,2118.3 C689.6,2114.8 699.5,2110.7 709.4,2107.2 C719.2,2103.7 729.1,2100.6 739.0,2097.4 C748.9,2094.2 758.8,2091.1 768.7,2087.9 C778.6,2084.7 788.5,2081.6 798.4,2078.4 C808.2,2075.2 818.1,2071.4 828.0,2068.9 C837.9,2066.4 847.8,2065.2 857.7,2063.4 C867.6,2061.7 877.5,2060.0 887.4,2058.3 C897.3,2056.6 907.1,2054.9 917.0,2053.1 C926.9,2051.4 936.8,2049.6 946.7,2048.0 C956.6,2046.4 966.5,2044.9 976.4,2043.4 C986.3,2041.8 996.2,2040.3 1006.0,2038.6 C1015.9,2036.8 1025.8,2035.0 1035.7,2033.0 C1045.6,2031.0 1055.5,2028.6 1065.4,2026.4 C1075.3,2024.3 1085.2,2022.2 1095.1,2019.9 C1104.9,2017.5 1114.8,2014.9 1124.7,2012.3 C1134.6,2009.8 1144.5,2007.2 1154.4,2004.6 C1164.3,2002.0 1174.2,1999.5 1184.1,1996.9 C1194.0,1994.4 1203.8,1991.9 1213.7,1989.4 C1223.6,1986.8 1233.5,1984.3 1243.4,1981.8 C1253.3,1979.2 1263.2,1976.8 1273.1,1974.2 C1283.0,1971.5 1292.9,1968.6 1302.7,1965.7 C1312.6,1962.9 1322.5,1959.9 1332.4,1957.0 C1342.3,1954.1 1352.2,1951.2 1362.1,1948.3 C1372.0,1945.4 1381.9,1942.6 1391.7,1939.6 C1401.6,1936.7 1411.5,1933.6 1421.4,1930.6 C1431.3,1927.5 1441.2,1924.5 1451.1,1921.5 C1461.0,1918.5 1470.9,1915.5 1480.8,1912.4 C1490.6,1909.3 1500.5,1906.2 1510.4,1903.2 C1520.3,1900.1 1530.2,1897.1 1540.1,1893.9 C1550.0,1890.8 1559.9,1887.6 1569.8,1884.4 C1579.7,1881.1 1589.5,1877.8 1599.4,1874.5 C1609.3,1871.2 1619.2,1867.9 1629.1,1864.6 C1639.0,1861.4 1648.9,1858.0 1658.8,1855.0 C1668.7,1852.0 1678.6,1849.4 1688.4,1846.8 C1698.3,1844.2 1708.2,1841.7 1718.1,1839.2 C1728.0,1836.6 1737.9,1834.1 1747.8,1831.5 C1757.7,1829.0 1767.6,1826.4 1777.5,1823.9 C1787.3,1821.3 1797.2,1818.8 1807.1,1816.2 C1817.0,1813.7 1826.9,1811.1 1836.8,1808.6 C1846.7,1806.1 1856.6,1803.6 1866.5,1801.1 C1876.4,1798.7 1886.2,1796.4 1896.1,1794.1 C1906.0,1791.7 1920.9,1788.2 1925.8,1787.0 L1925.8,1947.0 C1920.9,1948.1 1906.0,1951.4 1896.1,1953.6 C1886.2,1955.9 1876.4,1958.0 1866.5,1960.3 C1856.6,1962.6 1846.7,1964.9 1836.8,1967.3 C1826.9,1969.7 1817.0,1972.1 1807.1,1974.5 C1797.2,1976.9 1787.3,1979.3 1777.5,1981.7 C1767.6,1984.1 1757.7,1986.5 1747.8,1988.9 C1737.9,1991.3 1728.0,1993.7 1718.1,1996.1 C1708.2,1998.5 1698.3,2000.9 1688.4,2003.4 C1678.6,2005.9 1668.7,2008.5 1658.8,2011.1 C1648.9,2013.7 1639.0,2016.4 1629.1,2018.9 C1619.2,2021.5 1609.3,2023.9 1599.4,2026.5 C1589.5,2029.0 1579.7,2031.5 1569.8,2034.0 C1559.9,2036.4 1550.0,2038.8 1540.1,2041.1 C1530.2,2043.5 1520.3,2045.7 1510.4,2048.0 C1500.5,2050.3 1490.6,2052.6 1480.8,2054.9 C1470.9,2057.1 1461.0,2059.3 1451.1,2061.6 C1441.2,2063.8 1431.3,2066.1 1421.4,2068.3 C1411.5,2070.5 1401.6,2072.8 1391.7,2074.9 C1381.9,2077.0 1372.0,2079.0 1362.1,2081.0 C1352.2,2083.1 1342.3,2085.1 1332.4,2087.2 C1322.5,2089.2 1312.6,2091.3 1302.7,2093.3 C1292.9,2095.3 1283.0,2097.3 1273.1,2099.2 C1263.2,2101.0 1253.3,2102.5 1243.4,2104.2 C1233.5,2105.9 1223.6,2107.5 1213.7,2109.2 C1203.8,2110.9 1194.0,2112.5 1184.1,2114.2 C1174.2,2115.9 1164.3,2117.6 1154.4,2119.3 C1144.5,2121.0 1134.6,2122.8 1124.7,2124.5 C1114.8,2126.2 1104.9,2128.0 1095.1,2129.4 C1085.2,2130.8 1075.3,2131.8 1065.4,2133.0 C1055.5,2134.2 1045.6,2135.5 1035.7,2136.6 C1025.8,2137.6 1015.9,2138.2 1006.0,2139.2 C996.2,2140.1 986.3,2141.2 976.4,2142.2 C966.5,2143.3 956.6,2144.3 946.7,2145.5 C936.8,2146.7 926.9,2148.0 917.0,2149.2 C907.1,2150.5 897.3,2151.7 887.4,2153.0 C877.5,2154.2 867.6,2155.5 857.7,2156.8 C847.8,2158.0 837.9,2159.3 828.0,2160.5 C818.1,2161.8 808.2,2163.1 798.4,2164.4 C788.5,2165.7 778.6,2167.0 768.7,2168.3 C758.8,2169.5 748.9,2170.8 739.0,2172.1 C729.1,2173.4 719.2,2174.7 709.4,2176.3 C699.5,2177.9 689.6,2179.8 679.7,2181.8 C669.8,2183.8 659.9,2186.5 650.0,2188.5 C640.1,2190.5 630.2,2191.7 620.3,2193.5 C610.5,2195.4 600.6,2197.2 590.7,2199.7 C580.8,2202.1 570.9,2205.7 561.0,2208.2 C551.1,2210.7 541.2,2212.7 531.3,2214.7 C521.4,2216.7 511.6,2218.5 501.7,2220.4 C491.8,2222.4 481.9,2224.0 472.0,2226.2 C462.1,2228.3 452.2,2231.4 442.3,2233.3 C432.4,2235.2 422.5,2236.3 412.7,2237.7 C402.8,2239.0 392.9,2240.2 383.0,2241.4 C373.1,2242.7 363.2,2243.9 353.3,2245.2 C343.4,2246.4 333.5,2247.8 323.6,2248.9 C313.8,2250.1 303.9,2251.1 294.0,2252.1 C284.1,2253.2 274.2,2254.2 264.3,2255.3 C254.4,2256.3 244.5,2257.4 234.6,2258.4 C224.7,2259.4 214.9,2260.4 205.0,2261.5 C195.1,2262.5 180.2,2264.0 175.3,2264.5 Z" fill="rgba(141,195,31,0.11)"/>
<path d="M175.3,2268.3 C180.2,2268.2 195.1,2268.0 205.0,2267.9 C214.9,2267.8 224.7,2267.6 234.6,2267.5 C244.5,2267.4 254.4,2267.2 264.3,2267.1 C274.2,2267.0 284.1,2266.9 294.0,2266.7 C303.9,2266.6 313.8,2266.6 323.6,2266.3 C333.5,2265.9 343.4,2265.2 353.3,2264.6 C363.2,2264.1 373.1,2263.5 383.0,2263.0 C392.9,2262.4 402.8,2261.9 412.7,2261.3 C422.5,2260.7 432.4,2260.3 442.3,2259.2 C452.2,2258.2 462.1,2256.5 472.0,2255.1 C481.9,2253.7 491.8,2252.3 501.7,2250.9 C511.6,2249.5 521.4,2248.1 531.3,2246.8 C541.2,2245.4 551.1,2244.1 561.0,2242.9 C570.9,2241.8 580.8,2241.2 590.7,2240.0 C600.6,2238.8 610.5,2237.2 620.3,2235.6 C630.2,2234.0 640.1,2232.2 650.0,2230.5 C659.9,2228.8 669.8,2227.2 679.7,2225.5 C689.6,2223.8 699.5,2222.2 709.4,2220.4 C719.2,2218.6 729.1,2216.6 739.0,2214.7 C748.9,2212.8 758.8,2210.8 768.7,2208.8 C778.6,2206.9 788.5,2204.9 798.4,2203.0 C808.2,2201.0 818.1,2198.9 828.0,2197.1 C837.9,2195.4 847.8,2194.1 857.7,2192.5 C867.6,2191.0 877.5,2189.5 887.4,2188.1 C897.3,2186.6 907.1,2185.1 917.0,2183.6 C926.9,2182.1 936.8,2180.4 946.7,2179.1 C956.6,2177.9 966.5,2177.1 976.4,2176.1 C986.3,2175.0 996.2,2174.0 1006.0,2173.0 C1015.9,2171.9 1025.8,2171.0 1035.7,2169.9 C1045.6,2168.8 1055.5,2167.5 1065.4,2166.2 C1075.3,2165.0 1085.2,2163.9 1095.1,2162.5 C1104.9,2161.1 1114.8,2159.6 1124.7,2157.8 C1134.6,2156.0 1144.5,2153.8 1154.4,2151.8 C1164.3,2149.8 1174.2,2147.7 1184.1,2145.7 C1194.0,2143.7 1203.8,2141.7 1213.7,2139.7 C1223.6,2137.7 1233.5,2135.9 1243.4,2133.7 C1253.3,2131.5 1263.2,2129.0 1273.1,2126.5 C1283.0,2124.0 1292.9,2121.5 1302.7,2118.9 C1312.6,2116.4 1322.5,2114.1 1332.4,2111.4 C1342.3,2108.7 1352.2,2105.8 1362.1,2103.0 C1372.0,2100.2 1381.9,2097.3 1391.7,2094.4 C1401.6,2091.5 1411.5,2088.8 1421.4,2085.8 C1431.3,2082.8 1441.2,2079.6 1451.1,2076.4 C1461.0,2073.2 1470.9,2069.9 1480.8,2066.6 C1490.6,2063.4 1500.5,2059.8 1510.4,2056.9 C1520.3,2054.0 1530.2,2051.8 1540.1,2049.1 C1550.0,2046.4 1559.9,2044.0 1569.8,2040.8 C1579.7,2037.7 1589.5,2033.7 1599.4,2030.1 C1609.3,2026.6 1619.2,2023.0 1629.1,2019.4 C1639.0,2015.8 1648.9,2012.6 1658.8,2008.4 C1668.7,2004.3 1678.6,1999.4 1688.4,1994.5 C1698.3,1989.7 1708.2,1984.4 1718.1,1979.3 C1728.0,1974.2 1737.9,1969.4 1747.8,1963.9 C1757.7,1958.5 1767.6,1952.4 1777.5,1946.7 C1787.3,1941.0 1797.2,1935.4 1807.1,1930.0 C1817.0,1924.6 1826.9,1919.4 1836.8,1914.3 C1846.7,1909.2 1856.6,1904.4 1866.5,1899.4 C1876.4,1894.5 1886.2,1889.5 1896.1,1884.6 C1906.0,1879.6 1920.9,1872.2 1925.8,1869.7 L1925.8,2047.7 C1920.9,2049.2 1906.0,2053.7 1896.1,2056.7 C1886.2,2059.7 1876.4,2062.7 1866.5,2065.7 C1856.6,2068.8 1846.7,2071.6 1836.8,2074.8 C1826.9,2077.9 1817.0,2081.2 1807.1,2084.6 C1797.2,2088.1 1787.3,2091.9 1777.5,2095.6 C1767.6,2099.2 1757.7,2103.2 1747.8,2106.5 C1737.9,2109.8 1728.0,2112.5 1718.1,2115.4 C1708.2,2118.3 1698.3,2121.4 1688.4,2124.1 C1678.6,2126.8 1668.7,2129.3 1658.8,2131.5 C1648.9,2133.7 1639.0,2135.4 1629.1,2137.3 C1619.2,2139.2 1609.3,2141.2 1599.4,2143.1 C1589.5,2145.0 1579.7,2147.3 1569.8,2148.9 C1559.9,2150.4 1550.0,2151.4 1540.1,2152.6 C1530.2,2153.8 1520.3,2154.6 1510.4,2156.1 C1500.5,2157.5 1490.6,2159.7 1480.8,2161.5 C1470.9,2163.3 1461.0,2165.1 1451.1,2166.9 C1441.2,2168.7 1431.3,2170.6 1421.4,2172.3 C1411.5,2174.1 1401.6,2175.7 1391.7,2177.5 C1381.9,2179.4 1372.0,2181.5 1362.1,2183.4 C1352.2,2185.4 1342.3,2187.4 1332.4,2189.1 C1322.5,2190.9 1312.6,2192.4 1302.7,2194.0 C1292.9,2195.6 1283.0,2197.3 1273.1,2198.7 C1263.2,2200.1 1253.3,2201.4 1243.4,2202.4 C1233.5,2203.5 1223.6,2204.1 1213.7,2205.0 C1203.8,2205.8 1194.0,2206.7 1184.1,2207.5 C1174.2,2208.4 1164.3,2209.3 1154.4,2210.1 C1144.5,2211.0 1134.6,2212.0 1124.7,2212.7 C1114.8,2213.4 1104.9,2213.6 1095.1,2214.1 C1085.2,2214.7 1075.3,2215.3 1065.4,2215.9 C1055.5,2216.4 1045.6,2217.1 1035.7,2217.5 C1025.8,2218.0 1015.9,2218.2 1006.0,2218.6 C996.2,2218.9 986.3,2219.3 976.4,2219.6 C966.5,2220.0 956.6,2220.1 946.7,2220.7 C936.8,2221.3 926.9,2222.3 917.0,2223.1 C907.1,2223.9 897.3,2224.8 887.4,2225.6 C877.5,2226.4 867.6,2227.2 857.7,2228.1 C847.8,2228.9 837.9,2229.6 828.0,2230.6 C818.1,2231.7 808.2,2233.2 798.4,2234.5 C788.5,2235.8 778.6,2237.0 768.7,2238.3 C758.8,2239.6 748.9,2240.9 739.0,2242.1 C729.1,2243.4 719.2,2244.7 709.4,2245.8 C699.5,2246.9 689.6,2247.9 679.7,2248.9 C669.8,2249.9 659.9,2250.9 650.0,2251.9 C640.1,2253.0 630.2,2254.0 620.3,2255.0 C610.5,2256.0 600.6,2256.9 590.7,2257.7 C580.8,2258.5 570.9,2258.9 561.0,2259.8 C551.1,2260.6 541.2,2261.7 531.3,2262.7 C521.4,2263.7 511.6,2264.9 501.7,2266.0 C491.8,2267.1 481.9,2268.1 472.0,2269.2 C462.1,2270.3 452.2,2271.8 442.3,2272.5 C432.4,2273.2 422.5,2273.3 412.7,2273.7 C402.8,2274.0 392.9,2274.2 383.0,2274.5 C373.1,2274.8 363.2,2275.1 353.3,2275.4 C343.4,2275.7 333.5,2276.2 323.6,2276.2 C313.8,2276.3 303.9,2276.0 294.0,2275.9 C284.1,2275.8 274.2,2275.6 264.3,2275.5 C254.4,2275.4 244.5,2275.2 234.6,2275.1 C224.7,2275.0 214.9,2274.8 205.0,2274.7 C195.1,2274.6 180.2,2274.4 175.3,2274.3 Z" fill="rgba(0,0,255,0.11)"/>
<path d="M175.3,2258.0 C180.2,2257.3 195.1,2255.4 205.0,2254.0 C214.9,2252.7 224.7,2251.4 234.6,2250.1 C244.5,2248.8 254.4,2247.5 264.3,2246.1 C274.2,2244.8 284.1,2243.5 294.0,2242.2 C303.9,2240.9 313.8,2239.5 323.6,2238.3 C333.5,2237.0 343.4,2235.7 353.3,2234.5 C363.2,2233.2 373.1,2231.9 383.0,2230.7 C392.9,2229.4 402.8,2228.2 412.7,2227.0 C422.5,2225.8 432.4,2224.6 442.3,2223.5 C452.2,2222.5 462.1,2221.7 472.0,2220.7 C481.9,2219.8 491.8,2218.9 501.7,2217.9 C511.6,2217.0 521.4,2216.1 531.3,2215.1 C541.2,2214.2 551.1,2213.2 561.0,2212.2 C570.9,2211.2 580.8,2210.2 590.7,2209.2 C600.6,2208.1 610.5,2207.1 620.3,2206.0 C630.2,2205.0 640.1,2203.9 650.0,2202.8 C659.9,2201.8 669.8,2200.7 679.7,2199.6 C689.6,2198.6 699.5,2197.7 709.4,2196.4 C719.2,2195.1 729.1,2193.5 739.0,2191.9 C748.9,2190.3 758.8,2188.6 768.7,2187.0 C778.6,2185.4 788.5,2183.8 798.4,2182.1 C808.2,2180.5 818.1,2179.1 828.0,2177.3 C837.9,2175.5 847.8,2173.0 857.7,2171.4 C867.6,2169.7 877.5,2168.7 887.4,2167.4 C897.3,2166.1 907.1,2164.9 917.0,2163.8 C926.9,2162.6 936.8,2161.5 946.7,2160.4 C956.6,2159.3 966.5,2158.3 976.4,2157.2 C986.3,2156.2 996.2,2155.3 1006.0,2154.0 C1015.9,2152.6 1025.8,2150.6 1035.7,2148.9 C1045.6,2147.2 1055.5,2145.5 1065.4,2143.8 C1075.3,2142.2 1085.2,2140.3 1095.1,2138.7 C1104.9,2137.1 1114.8,2135.7 1124.7,2134.2 C1134.6,2132.7 1144.5,2131.3 1154.4,2129.8 C1164.3,2128.3 1174.2,2126.8 1184.1,2125.4 C1194.0,2123.9 1203.8,2122.4 1213.7,2120.9 C1223.6,2119.4 1233.5,2117.9 1243.4,2116.4 C1253.3,2114.9 1263.2,2113.4 1273.1,2111.9 C1283.0,2110.4 1292.9,2109.0 1302.7,2107.5 C1312.6,2106.1 1322.5,2104.6 1332.4,2103.1 C1342.3,2101.7 1352.2,2100.2 1362.1,2098.8 C1372.0,2097.3 1381.9,2096.0 1391.7,2094.4 C1401.6,2092.9 1411.5,2091.2 1421.4,2089.5 C1431.3,2087.8 1441.2,2086.4 1451.1,2084.3 C1461.0,2082.3 1470.9,2079.6 1480.8,2077.2 C1490.6,2074.8 1500.5,2072.5 1510.4,2070.1 C1520.3,2067.7 1530.2,2065.4 1540.1,2063.0 C1550.0,2060.5 1559.9,2058.1 1569.8,2055.4 C1579.7,2052.7 1589.5,2049.7 1599.4,2046.8 C1609.3,2043.9 1619.2,2041.1 1629.1,2038.2 C1639.0,2035.2 1648.9,2032.6 1658.8,2029.0 C1668.7,2025.5 1678.6,2021.1 1688.4,2016.8 C1698.3,2012.5 1708.2,2011.2 1718.1,2003.1 C1728.0,1995.1 1737.9,1980.7 1747.8,1968.5 C1757.7,1956.3 1767.6,1942.0 1777.5,1929.9 C1787.3,1917.8 1797.2,1907.2 1807.1,1896.0 C1817.0,1884.7 1826.9,1874.3 1836.8,1862.5 C1846.7,1850.8 1856.6,1837.8 1866.5,1825.4 C1876.4,1812.9 1886.2,1799.7 1896.1,1788.0 C1906.0,1776.3 1920.9,1760.6 1925.8,1755.1 L1925.8,1907.1 C1920.9,1911.3 1906.0,1923.2 1896.1,1932.4 C1886.2,1941.6 1876.4,1952.3 1866.5,1962.3 C1856.6,1972.2 1846.7,1982.6 1836.8,1991.9 C1826.9,2001.1 1817.0,2008.9 1807.1,2017.8 C1797.2,2026.7 1787.3,2035.4 1777.5,2045.4 C1767.6,2055.4 1757.7,2067.8 1747.8,2078.0 C1737.9,2088.3 1728.0,2100.7 1718.1,2106.7 C1708.2,2112.8 1698.3,2112.2 1688.4,2114.5 C1678.6,2116.8 1668.7,2118.8 1658.8,2120.8 C1648.9,2122.8 1639.0,2124.5 1629.1,2126.5 C1619.2,2128.5 1609.3,2130.7 1599.4,2132.8 C1589.5,2134.8 1579.7,2137.1 1569.8,2139.0 C1559.9,2140.9 1550.0,2142.5 1540.1,2144.2 C1530.2,2145.8 1520.3,2147.3 1510.4,2148.9 C1500.5,2150.5 1490.6,2152.1 1480.8,2153.7 C1470.9,2155.3 1461.0,2157.2 1451.1,2158.4 C1441.2,2159.7 1431.3,2160.3 1421.4,2161.2 C1411.5,2162.1 1401.6,2163.0 1391.7,2163.9 C1381.9,2164.7 1372.0,2165.4 1362.1,2166.2 C1352.2,2167.0 1342.3,2167.7 1332.4,2168.5 C1322.5,2169.3 1312.6,2170.1 1302.7,2170.8 C1292.9,2171.6 1283.0,2172.4 1273.1,2173.2 C1263.2,2174.0 1253.3,2174.9 1243.4,2175.7 C1233.5,2176.5 1223.6,2177.3 1213.7,2178.1 C1203.8,2178.9 1194.0,2179.7 1184.1,2180.5 C1174.2,2181.4 1164.3,2182.2 1154.4,2183.0 C1144.5,2183.8 1134.6,2184.5 1124.7,2185.3 C1114.8,2186.2 1104.9,2186.9 1095.1,2187.8 C1085.2,2188.8 1075.3,2189.8 1065.4,2190.9 C1055.5,2192.0 1045.6,2193.1 1035.7,2194.4 C1025.8,2195.6 1015.9,2197.2 1006.0,2198.2 C996.2,2199.2 986.3,2199.6 976.4,2200.3 C966.5,2201.0 956.6,2201.6 946.7,2202.2 C936.8,2202.9 926.9,2203.7 917.0,2204.4 C907.1,2205.2 897.3,2206.0 887.4,2206.9 C877.5,2207.8 867.6,2208.4 857.7,2209.7 C847.8,2210.9 837.9,2213.0 828.0,2214.4 C818.1,2215.8 808.2,2216.9 798.4,2218.1 C788.5,2219.3 778.6,2220.5 768.7,2221.8 C758.8,2223.0 748.9,2224.3 739.0,2225.4 C729.1,2226.6 719.2,2227.9 709.4,2228.8 C699.5,2229.7 689.6,2230.1 679.7,2230.8 C669.8,2231.5 659.9,2232.1 650.0,2232.8 C640.1,2233.5 630.2,2234.2 620.3,2234.8 C610.5,2235.5 600.6,2236.1 590.7,2236.8 C580.8,2237.4 570.9,2238.1 561.0,2238.7 C551.1,2239.3 541.2,2239.8 531.3,2240.4 C521.4,2240.9 511.6,2241.4 501.7,2242.0 C491.8,2242.5 481.9,2243.1 472.0,2243.6 C462.1,2244.1 452.2,2244.6 442.3,2245.2 C432.4,2245.9 422.5,2246.7 412.7,2247.5 C402.8,2248.3 392.9,2249.0 383.0,2249.8 C373.1,2250.5 363.2,2251.3 353.3,2252.0 C343.4,2252.7 333.5,2253.4 323.6,2254.2 C313.8,2254.9 303.9,2255.8 294.0,2256.5 C284.1,2257.3 274.2,2258.1 264.3,2258.9 C254.4,2259.7 244.5,2260.5 234.6,2261.3 C224.7,2262.1 214.9,2262.9 205.0,2263.6 C195.1,2264.4 180.2,2265.6 175.3,2266.0 Z" fill="rgba(52,152,219,0.11)"/>
<path d="M175.3,2259.5 C180.2,2259.2 195.1,2258.3 205.0,2257.8 C214.9,2257.2 224.7,2256.6 234.6,2256.0 C244.5,2255.5 254.4,2254.9 264.3,2254.3 C274.2,2253.7 284.1,2253.2 294.0,2252.6 C303.9,2252.0 313.8,2251.5 323.6,2250.9 C333.5,2250.2 343.4,2249.3 353.3,2248.6 C363.2,2247.8 373.1,2247.1 383.0,2246.3 C392.9,2245.5 402.8,2244.8 412.7,2243.9 C422.5,2242.9 432.4,2242.1 442.3,2240.9 C452.2,2239.7 462.1,2238.2 472.0,2236.8 C481.9,2235.5 491.8,2234.1 501.7,2232.8 C511.6,2231.5 521.4,2230.1 531.3,2228.8 C541.2,2227.4 551.1,2226.0 561.0,2224.6 C570.9,2223.1 580.8,2221.7 590.7,2220.0 C600.6,2218.4 610.5,2216.6 620.3,2214.8 C630.2,2213.0 640.1,2211.1 650.0,2209.2 C659.9,2207.4 669.8,2205.6 679.7,2203.8 C689.6,2202.0 699.5,2200.1 709.4,2198.3 C719.2,2196.6 729.1,2194.9 739.0,2193.2 C748.9,2191.5 758.8,2189.8 768.7,2188.1 C778.6,2186.4 788.5,2184.7 798.4,2183.0 C808.2,2181.2 818.1,2179.6 828.0,2177.4 C837.9,2175.2 847.8,2172.3 857.7,2169.7 C867.6,2167.1 877.5,2164.4 887.4,2161.7 C897.3,2159.1 907.1,2157.2 917.0,2153.8 C926.9,2150.3 936.8,2145.4 946.7,2141.1 C956.6,2136.9 966.5,2133.0 976.4,2128.4 C986.3,2123.8 996.2,2118.5 1006.0,2113.6 C1015.9,2108.6 1025.8,2103.6 1035.7,2098.8 C1045.6,2094.0 1055.5,2089.3 1065.4,2084.6 C1075.3,2079.9 1085.2,2074.5 1095.1,2070.4 C1104.9,2066.3 1114.8,2063.3 1124.7,2059.9 C1134.6,2056.5 1144.5,2053.1 1154.4,2050.2 C1164.3,2047.3 1174.2,2044.9 1184.1,2042.4 C1194.0,2039.9 1203.8,2037.6 1213.7,2035.0 C1223.6,2032.5 1233.5,2029.7 1243.4,2027.0 C1253.3,2024.4 1263.2,2021.8 1273.1,2019.1 C1283.0,2016.5 1292.9,2014.6 1302.7,2011.2 C1312.6,2007.8 1322.5,2003.3 1332.4,1998.6 C1342.3,1993.9 1352.2,1988.8 1362.1,1983.1 C1372.0,1977.4 1381.9,1970.9 1391.7,1964.4 C1401.6,1957.9 1411.5,1951.0 1421.4,1944.3 C1431.3,1937.5 1441.2,1931.8 1451.1,1923.7 C1461.0,1915.5 1470.9,1904.9 1480.8,1895.5 C1490.6,1886.1 1500.5,1876.3 1510.4,1867.1 C1520.3,1857.8 1530.2,1849.1 1540.1,1840.0 C1550.0,1831.0 1559.9,1821.4 1569.8,1812.8 C1579.7,1804.2 1589.5,1796.5 1599.4,1788.4 C1609.3,1780.3 1619.2,1772.0 1629.1,1764.0 C1639.0,1755.9 1648.9,1748.1 1658.8,1740.0 C1668.7,1731.9 1678.6,1726.2 1688.4,1715.3 C1698.3,1704.4 1708.2,1688.5 1718.1,1674.5 C1728.0,1660.6 1737.9,1645.9 1747.8,1631.4 C1757.7,1617.0 1767.6,1602.4 1777.5,1587.9 C1787.3,1573.3 1797.2,1558.6 1807.1,1544.1 C1817.0,1529.6 1826.9,1515.4 1836.8,1500.9 C1846.7,1486.5 1856.6,1472.7 1866.5,1457.4 C1876.4,1442.1 1886.2,1424.7 1896.1,1409.2 C1906.0,1393.8 1920.9,1372.0 1925.8,1364.5 L1925.8,1678.5 C1920.9,1684.6 1906.0,1702.4 1896.1,1715.2 C1886.2,1728.0 1876.4,1742.7 1866.5,1755.3 C1856.6,1767.9 1846.7,1779.1 1836.8,1790.9 C1826.9,1802.7 1817.0,1814.6 1807.1,1826.0 C1797.2,1837.4 1787.3,1848.5 1777.5,1859.4 C1767.6,1870.4 1757.7,1881.2 1747.8,1891.9 C1737.9,1902.7 1728.0,1913.7 1718.1,1924.0 C1708.2,1934.3 1698.3,1946.4 1688.4,1953.6 C1678.6,1960.8 1668.7,1963.2 1658.8,1967.3 C1648.9,1971.3 1639.0,1974.4 1629.1,1977.9 C1619.2,1981.4 1609.3,1984.7 1599.4,1988.1 C1589.5,1991.5 1579.7,1994.2 1569.8,1998.3 C1559.9,2002.5 1550.0,2007.6 1540.1,2013.0 C1530.2,2018.4 1520.3,2024.7 1510.4,2030.9 C1500.5,2037.1 1490.6,2043.9 1480.8,2050.2 C1470.9,2056.6 1461.0,2064.2 1451.1,2069.3 C1441.2,2074.4 1431.3,2076.9 1421.4,2080.8 C1411.5,2084.7 1401.6,2088.6 1391.7,2092.7 C1381.9,2096.8 1372.0,2101.8 1362.1,2105.6 C1352.2,2109.3 1342.3,2112.4 1332.4,2115.1 C1322.5,2117.8 1312.6,2120.3 1302.7,2121.8 C1292.9,2123.2 1283.0,2123.1 1273.1,2123.7 C1263.2,2124.4 1253.3,2125.0 1243.4,2125.7 C1233.5,2126.4 1223.6,2126.9 1213.7,2127.8 C1203.8,2128.6 1194.0,2129.5 1184.1,2130.8 C1174.2,2132.1 1164.3,2133.7 1154.4,2135.6 C1144.5,2137.5 1134.6,2140.0 1124.7,2142.4 C1114.8,2144.7 1104.9,2146.7 1095.1,2149.9 C1085.2,2153.0 1075.3,2157.4 1065.4,2161.1 C1055.5,2164.9 1045.6,2168.6 1035.7,2172.4 C1025.8,2176.2 1015.9,2180.2 1006.0,2184.2 C996.2,2188.1 986.3,2192.4 976.4,2196.0 C966.5,2199.6 956.6,2202.6 946.7,2205.8 C936.8,2209.1 926.9,2213.0 917.0,2215.5 C907.1,2217.9 897.3,2218.8 887.4,2220.5 C877.5,2222.1 867.6,2223.8 857.7,2225.4 C847.8,2227.1 837.9,2229.0 828.0,2230.2 C818.1,2231.5 808.2,2231.9 798.4,2232.8 C788.5,2233.8 778.6,2234.9 768.7,2235.9 C758.8,2236.9 748.9,2237.9 739.0,2238.9 C729.1,2239.9 719.2,2240.9 709.4,2242.0 C699.5,2243.1 689.6,2244.2 679.7,2245.4 C669.8,2246.5 659.9,2247.6 650.0,2248.7 C640.1,2249.9 630.2,2251.1 620.3,2252.2 C610.5,2253.3 600.6,2254.4 590.7,2255.3 C580.8,2256.2 570.9,2256.8 561.0,2257.5 C551.1,2258.1 541.2,2258.7 531.3,2259.3 C521.4,2259.8 511.6,2260.4 501.7,2260.9 C491.8,2261.5 481.9,2262.0 472.0,2262.6 C462.1,2263.2 452.2,2263.9 442.3,2264.3 C432.4,2264.7 422.5,2264.7 412.7,2264.9 C402.8,2265.1 392.9,2265.3 383.0,2265.6 C373.1,2265.9 363.2,2266.2 353.3,2266.5 C343.4,2266.8 333.5,2267.2 323.6,2267.5 C313.8,2267.7 303.9,2267.7 294.0,2267.9 C284.1,2268.0 274.2,2268.2 264.3,2268.3 C254.4,2268.4 244.5,2268.6 234.6,2268.7 C224.7,2268.8 214.9,2269.0 205.0,2269.1 C195.1,2269.2 180.2,2269.4 175.3,2269.5 Z" fill="rgba(192,0,30,0.11)"/>
<path d="M175.3,2248.3 C180.2,2246.9 195.1,2242.9 205.0,2240.1 C214.9,2237.4 224.7,2234.7 234.6,2232.0 C244.5,2229.3 254.4,2226.6 264.3,2223.9 C274.2,2221.2 284.1,2218.5 294.0,2215.8 C303.9,2213.2 313.8,2210.2 323.6,2208.0 C333.5,2205.8 343.4,2204.3 353.3,2202.5 C363.2,2200.6 373.1,2198.8 383.0,2197.0 C392.9,2195.2 402.8,2193.7 412.7,2191.6 C422.5,2189.4 432.4,2188.3 442.3,2184.3 C452.2,2180.3 462.1,2172.4 472.0,2167.7 C481.9,2162.9 491.8,2159.7 501.7,2155.7 C511.6,2151.7 521.4,2147.4 531.3,2143.8 C541.2,2140.1 551.1,2136.2 561.0,2133.8 C570.9,2131.5 580.8,2131.0 590.7,2129.5 C600.6,2128.0 610.5,2126.3 620.3,2124.6 C630.2,2123.0 640.1,2121.0 650.0,2119.4 C659.9,2117.8 669.8,2116.4 679.7,2115.0 C689.6,2113.7 699.5,2112.5 709.4,2111.3 C719.2,2110.0 729.1,2109.1 739.0,2107.6 C748.9,2106.0 758.8,2103.9 768.7,2102.0 C778.6,2100.0 788.5,2097.5 798.4,2096.0 C808.2,2094.4 818.1,2093.2 828.0,2092.8 C837.9,2092.4 847.8,2093.4 857.7,2093.7 C867.6,2094.0 877.5,2094.2 887.4,2094.7 C897.3,2095.1 907.1,2095.9 917.0,2096.4 C926.9,2097.0 936.8,2098.4 946.7,2098.0 C956.6,2097.5 966.5,2095.5 976.4,2093.8 C986.3,2092.2 996.2,2091.6 1006.0,2088.2 C1015.9,2084.9 1025.8,2079.2 1035.7,2073.7 C1045.6,2068.3 1055.5,2062.1 1065.4,2055.8 C1075.3,2049.5 1085.2,2043.1 1095.1,2035.9 C1104.9,2028.7 1114.8,2020.0 1124.7,2012.5 C1134.6,2005.1 1144.5,1997.0 1154.4,1990.9 C1164.3,1984.9 1174.2,1980.6 1184.1,1976.1 C1194.0,1971.7 1203.8,1967.7 1213.7,1964.3 C1223.6,1960.9 1233.5,1957.6 1243.4,1955.6 C1253.3,1953.5 1263.2,1953.1 1273.1,1951.9 C1283.0,1950.6 1292.9,1950.1 1302.7,1947.9 C1312.6,1945.8 1322.5,1941.6 1332.4,1938.8 C1342.3,1936.0 1352.2,1933.7 1362.1,1931.2 C1372.0,1928.8 1381.9,1926.8 1391.7,1924.1 C1401.6,1921.3 1411.5,1920.2 1421.4,1914.8 C1431.3,1909.4 1441.2,1901.9 1451.1,1891.7 C1461.0,1881.5 1470.9,1866.6 1480.8,1853.4 C1490.6,1840.2 1500.5,1827.6 1510.4,1812.5 C1520.3,1797.4 1530.2,1777.5 1540.1,1762.7 C1550.0,1747.9 1559.9,1735.2 1569.8,1723.6 C1579.7,1712.0 1589.5,1702.0 1599.4,1693.1 C1609.3,1684.1 1619.2,1677.4 1629.1,1669.9 C1639.0,1662.4 1648.9,1655.6 1658.8,1648.1 C1668.7,1640.6 1678.6,1632.0 1688.4,1625.0 C1698.3,1618.1 1708.2,1611.3 1718.1,1606.5 C1728.0,1601.6 1737.9,1599.4 1747.8,1596.1 C1757.7,1592.9 1767.6,1590.1 1777.5,1586.9 C1787.3,1583.8 1797.2,1580.6 1807.1,1577.5 C1817.0,1574.4 1826.9,1571.3 1836.8,1568.3 C1846.7,1565.2 1856.6,1561.9 1866.5,1559.1 C1876.4,1556.3 1886.2,1554.0 1896.1,1551.4 C1906.0,1548.8 1920.9,1544.9 1925.8,1543.6 L1925.8,1859.6 C1920.9,1859.1 1906.0,1857.6 1896.1,1856.6 C1886.2,1855.7 1876.4,1854.5 1866.5,1853.7 C1856.6,1853.0 1846.7,1852.5 1836.8,1852.2 C1826.9,1851.9 1817.0,1851.8 1807.1,1851.9 C1797.2,1852.0 1787.3,1851.4 1777.5,1852.7 C1767.6,1854.0 1757.7,1857.6 1747.8,1859.8 C1737.9,1862.0 1728.0,1863.9 1718.1,1865.7 C1708.2,1867.6 1698.3,1868.3 1688.4,1870.7 C1678.6,1873.1 1668.7,1875.6 1658.8,1880.1 C1648.9,1884.7 1639.0,1891.1 1629.1,1897.9 C1619.2,1904.7 1609.3,1913.7 1599.4,1921.1 C1589.5,1928.4 1579.7,1934.1 1569.8,1942.0 C1559.9,1949.9 1550.0,1960.1 1540.1,1968.2 C1530.2,1976.4 1520.3,1981.7 1510.4,1990.9 C1500.5,2000.0 1490.6,2012.7 1480.8,2023.2 C1470.9,2033.7 1461.0,2044.4 1451.1,2053.9 C1441.2,2063.4 1431.3,2073.8 1421.4,2080.1 C1411.5,2086.3 1401.6,2089.2 1391.7,2091.6 C1381.9,2093.9 1372.0,2093.0 1362.1,2093.9 C1352.2,2094.7 1342.3,2095.4 1332.4,2096.6 C1322.5,2097.9 1312.6,2100.4 1302.7,2101.4 C1292.9,2102.3 1283.0,2102.2 1273.1,2102.6 C1263.2,2102.9 1253.3,2102.3 1243.4,2103.5 C1233.5,2104.8 1223.6,2107.1 1213.7,2109.9 C1203.8,2112.7 1194.0,2116.4 1184.1,2120.3 C1174.2,2124.3 1164.3,2128.7 1154.4,2133.8 C1144.5,2138.9 1134.6,2145.8 1124.7,2151.1 C1114.8,2156.3 1104.9,2161.1 1095.1,2165.2 C1085.2,2169.4 1075.3,2172.7 1065.4,2176.0 C1055.5,2179.2 1045.6,2182.4 1035.7,2184.8 C1025.8,2187.1 1015.9,2188.5 1006.0,2190.1 C996.2,2191.7 986.3,2192.9 976.4,2194.4 C966.5,2195.9 956.6,2198.5 946.7,2199.1 C936.8,2199.8 926.9,2198.5 917.0,2198.2 C907.1,2197.9 897.3,2197.3 887.4,2197.1 C877.5,2196.9 867.6,2196.9 857.7,2196.8 C847.8,2196.7 837.9,2196.2 828.0,2196.5 C818.1,2196.8 808.2,2197.6 798.4,2198.5 C788.5,2199.4 778.6,2200.9 768.7,2202.0 C758.8,2203.1 748.9,2204.3 739.0,2205.1 C729.1,2205.8 719.2,2205.9 709.4,2206.3 C699.5,2206.7 689.6,2207.0 679.7,2207.5 C669.8,2208.0 659.9,2208.2 650.0,2209.4 C640.1,2210.6 630.2,2213.0 620.3,2214.6 C610.5,2216.3 600.6,2218.0 590.7,2219.5 C580.8,2221.0 570.9,2222.3 561.0,2223.8 C551.1,2225.4 541.2,2227.2 531.3,2228.9 C521.4,2230.6 511.6,2232.4 501.7,2234.1 C491.8,2235.9 481.9,2236.8 472.0,2239.3 C462.1,2241.9 452.2,2247.0 442.3,2249.3 C432.4,2251.6 422.5,2252.0 412.7,2253.0 C402.8,2254.0 392.9,2254.6 383.0,2255.4 C373.1,2256.2 363.2,2257.0 353.3,2257.9 C343.4,2258.7 333.5,2259.7 323.6,2260.4 C313.8,2261.0 303.9,2261.4 294.0,2261.9 C284.1,2262.4 274.2,2262.8 264.3,2263.2 C254.4,2263.7 244.5,2264.2 234.6,2264.6 C224.7,2265.1 214.9,2265.5 205.0,2266.0 C195.1,2266.4 180.2,2267.1 175.3,2267.3 Z" fill="rgba(245,154,30,0.11)"/>
</g>
<line x1="155.7" y1="1518.7" x2="155.7" y2="2277" stroke="#000" stroke-width="2.2"/>
<line x1="154.6" y1="2275.7" x2="1945" y2="2275.7" stroke="#000" stroke-width="2.2"/>
<line x1="150.8" y1="2276.0" x2="156" y2="2276.0" stroke="#000" stroke-width="4"/>
<text x="148.5" y="2286.8" font-size="31.5" textLength="52.5" lengthAdjust="spacingAndGlyphs" text-anchor="end" fill="#000" >0.00</text>
<line x1="150.8" y1="2063.6" x2="156" y2="2063.6" stroke="#000" stroke-width="4"/>
<text x="148.5" y="2074.4" font-size="31.5" textLength="52.5" lengthAdjust="spacingAndGlyphs" text-anchor="end" fill="#000" >0.05</text>
<line x1="150.8" y1="1851.2" x2="156" y2="1851.2" stroke="#000" stroke-width="4"/>
<text x="148.5" y="1862.0" font-size="31.5" textLength="52.5" lengthAdjust="spacingAndGlyphs" text-anchor="end" fill="#000" >0.10</text>
<line x1="150.8" y1="1638.8" x2="156" y2="1638.8" stroke="#000" stroke-width="4"/>
<text x="148.5" y="1649.6" font-size="31.5" textLength="52.5" lengthAdjust="spacingAndGlyphs" text-anchor="end" fill="#000" >0.15</text>
<line x1="160.5" y1="2275" x2="160.5" y2="2282" stroke="#000" stroke-width="4.5"/>
<text x="160.5" y="2320.3" font-size="36.5" textLength="39.0" lengthAdjust="spacingAndGlyphs" text-anchor="middle" fill="#000" >0.0</text>
<line x1="597.6" y1="2275" x2="597.6" y2="2282" stroke="#000" stroke-width="4.5"/>
<text x="597.6" y="2320.3" font-size="36.5" textLength="39.0" lengthAdjust="spacingAndGlyphs" text-anchor="middle" fill="#000" >2.5</text>
<line x1="1034.7" y1="2275" x2="1034.7" y2="2282" stroke="#000" stroke-width="4.5"/>
<text x="1034.7" y="2320.3" font-size="36.5" textLength="39.0" lengthAdjust="spacingAndGlyphs" text-anchor="middle" fill="#000" >5.0</text>
<line x1="1471.7" y1="2275" x2="1471.7" y2="2282" stroke="#000" stroke-width="4.5"/>
<text x="1471.7" y="2320.3" font-size="36.5" textLength="39.0" lengthAdjust="spacingAndGlyphs" text-anchor="middle" fill="#000" >7.5</text>
<line x1="1908.8" y1="2275" x2="1908.8" y2="2282" stroke="#000" stroke-width="4.5"/>
<text x="1908.8" y="2320.3" font-size="36.5" textLength="53.5" lengthAdjust="spacingAndGlyphs" text-anchor="middle" fill="#000" >10.0</text>
<text x="947.0" y="2385.8" font-size="38" textLength="208.0" lengthAdjust="spacingAndGlyphs" fill="#000" >Followup(Year)</text>
<text transform="translate(30.3,1897.3) rotate(-90)" x="0" y="0" font-size="38" textLength="64.0" lengthAdjust="spacingAndGlyphs" text-anchor="middle" fill="#000" >MCF</text>
<text x="629.4" y="1552.0" font-size="32" textLength="491.7" lengthAdjust="spacingAndGlyphs" fill="#000" >Stratification;   HR and MCF in 10 Years</text>
<text x="587.3" y="1600.2" font-size="32" textLength="575.9" lengthAdjust="spacingAndGlyphs" fill="#000" >hsCRP,&lt;3 mg/L;  HR: Reference;   MCF: 0.084</text>
<text x="441.2" y="1648.4" font-size="32" textLength="868.7" lengthAdjust="spacingAndGlyphs" fill="#000" >hsCRP, 3-8 mg/L;  HR: 0.85(95% CI, 0.52--1.18), p=0.65;   MCF: 0.089</text>
<text x="419.3" y="1696.6" font-size="32" textLength="912.5" lengthAdjust="spacingAndGlyphs" fill="#000" >hsCRP, 1×(≥8 mg/L);  HR: 0.73(95% CI, 0.44--1.02), p=0.24;   MCF: 0.134</text>
<text x="414.9" y="1744.8" font-size="32" textLength="921.3" lengthAdjust="spacingAndGlyphs" fill="#000" >hsCRP, 2-3×(≥8 mg/L);  HR: 1.21(95% CI, 0.92--1.5), p=0.49;   MCF: 0.196</text>
<text x="419.3" y="1793.0" font-size="32" textLength="912.5" lengthAdjust="spacingAndGlyphs" fill="#000" >hsCRP, &gt;3×(≥8 mg/L);  HR: 1.28(95% CI, 0.89--1.67), p=0.4;   MCF: 0.172</text>
<text x="593.9" y="1841.2" font-size="32" textLength="565.5" lengthAdjust="spacingAndGlyphs" fill="#000" >Sex, M;  HR: 1.51(95% CI, 1.3--1.72), p&lt;0.05*</text>
<text x="535.3" y="1889.4" font-size="32" textLength="679.9" lengthAdjust="spacingAndGlyphs" fill="#000" >Age, 60-75y;  HR: 2.74(95% CI, 2.53--2.95), p&lt;0.001***</text>
</svg></body></html>
